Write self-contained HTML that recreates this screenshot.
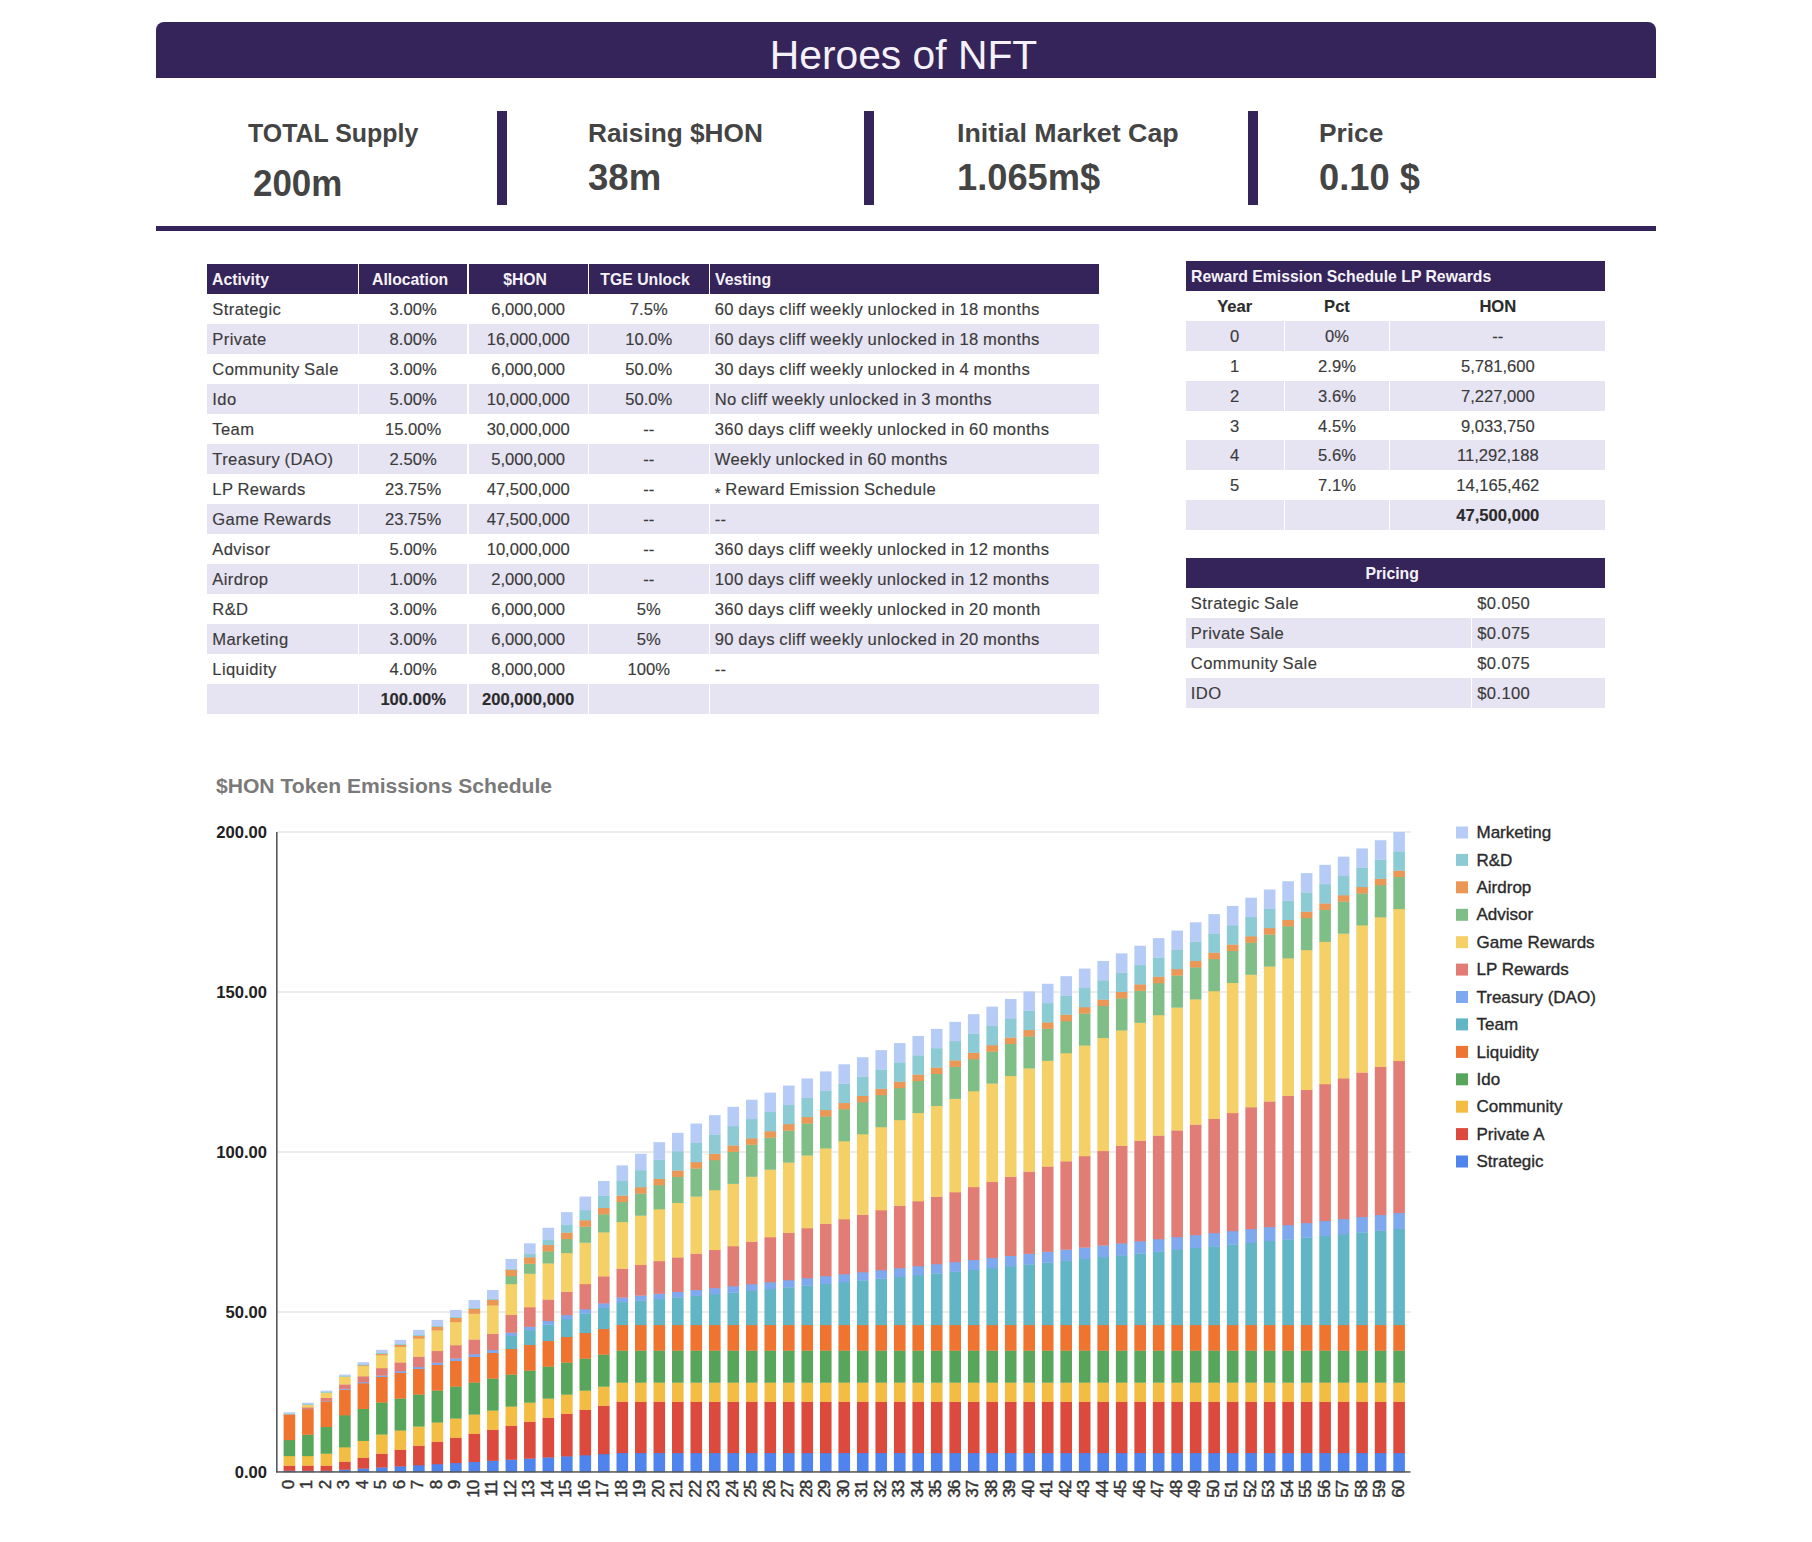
<!DOCTYPE html>
<html lang="en"><head><meta charset="utf-8"><title>Heroes of NFT - Tokenomics</title>
<style>
html,body{margin:0;padding:0;background:#fff;}
body{width:1812px;height:1542px;position:relative;overflow:hidden;font-family:"Liberation Sans",sans-serif;color:#3b3b3b;}
.banner{position:absolute;left:156px;top:22px;width:1500px;height:56px;background:#35245a;border-radius:8px 8px 0 0;color:#f4f2f8;text-align:center;font-size:40.8px;line-height:66px;text-indent:-5px;}
.rule{position:absolute;left:156px;top:226px;width:1500px;height:4.5px;background:#35245a;}
.vb{position:absolute;top:111px;width:10px;height:94px;background:#35245a;}
.sl,.sv{position:absolute;white-space:nowrap;font-weight:bold;color:#444;}
.sl{font-size:25px;line-height:36px;}
.sv{font-size:36px;line-height:46px;}
.sl span,.sv span{display:inline-block;transform-origin:0 50%;}
.c{position:absolute;box-sizing:border-box;font-size:16.6px;line-height:30px;white-space:nowrap;overflow:visible;}
.c span{display:inline-block;position:relative;top:1px;-webkit-text-stroke:.15px #3b3b3b;}
.ast{font-style:normal;font-size:15px;position:relative;top:2.5px;}
.c.l{text-align:left;padding-left:5px;letter-spacing:.38px;word-spacing:-.6px;}
.c.l span{transform-origin:0 50%;}
.c.m{text-align:center;}
.c.z{background:#e6e3f3;}
.c.h{background:#35245a;color:#f4f2f8;font-weight:bold;letter-spacing:0;word-spacing:0;}
.c.h span{transform:scaleX(.95);-webkit-text-stroke:0;}
.c.h.m span{left:-3.5px;}
.c.b{font-weight:bold;color:#2b2b2b;}
.chart{position:absolute;left:0;top:0;}
.chart text{font-family:"Liberation Sans",sans-serif;}
.yl{font-size:16.6px;font-weight:bold;fill:#222;}
.xl{font-size:17px;fill:#333;stroke:#333;stroke-width:.45px;letter-spacing:-.9px;}
.lg{font-size:17px;fill:#2a2a2a;stroke:#2a2a2a;stroke-width:.35px;}
.ct{font-size:21.1px;font-weight:bold;fill:#7a7a7a;}
</style></head><body>
<div class="banner">Heroes of NFT</div>
<div class="sl" style="left:247.5px;top:114.6px"><span style="transform:scaleX(0.997)">TOTAL Supply</span></div>
<div class="sv" style="left:252.5px;top:161.20000000000002px"><span style="transform:scaleX(0.97)">200m</span></div>
<div class="sl" style="left:588.3px;top:114.6px"><span style="transform:scaleX(1.049)">Raising $HON</span></div>
<div class="sv" style="left:588.3px;top:154.9px"><span style="transform:scaleX(1.016)">38m</span></div>
<div class="sl" style="left:957px;top:114.6px"><span style="transform:scaleX(1.071)">Initial Market Cap</span></div>
<div class="sv" style="left:957px;top:154.9px"><span style="transform:scaleX(1.007)">1.065m$</span></div>
<div class="sl" style="left:1318.6px;top:114.6px"><span style="transform:scaleX(1.052)">Price</span></div>
<div class="sv" style="left:1318.6px;top:154.9px"><span style="transform:scaleX(1.007)">0.10 $</span></div>
<div class="vb" style="left:497px"></div>
<div class="vb" style="left:864px"></div>
<div class="vb" style="left:1248px"></div>
<div class="rule"></div>
<div class="c h l" style="left:207.3px;top:264px;width:150.4px;height:30px;"><span>Activity</span></div>
<div class="c h m" style="left:358.8px;top:264px;width:108.7px;height:30px;"><span>Allocation</span></div>
<div class="c h m" style="left:468.6px;top:264px;width:119.2px;height:30px;"><span>$HON</span></div>
<div class="c h m" style="left:588.9px;top:264px;width:119.7px;height:30px;"><span>TGE Unlock</span></div>
<div class="c h l" style="left:709.7px;top:264px;width:389.3px;height:30px;"><span>Vesting</span></div>
<div class="c l " style="left:207.3px;top:294px;width:150.4px;height:30px;"><span>Strategic</span></div>
<div class="c m " style="left:358.8px;top:294px;width:108.7px;height:30px;"><span>3.00%</span></div>
<div class="c m " style="left:468.6px;top:294px;width:119.2px;height:30px;"><span>6,000,000</span></div>
<div class="c m " style="left:588.9px;top:294px;width:119.7px;height:30px;"><span>7.5%</span></div>
<div class="c l " style="left:709.7px;top:294px;width:389.3px;height:30px;"><span>60 days cliff weekly unlocked in 18 months</span></div>
<div class="c l z" style="left:207.3px;top:324px;width:150.4px;height:30px;"><span>Private</span></div>
<div class="c m z" style="left:358.8px;top:324px;width:108.7px;height:30px;"><span>8.00%</span></div>
<div class="c m z" style="left:468.6px;top:324px;width:119.2px;height:30px;"><span>16,000,000</span></div>
<div class="c m z" style="left:588.9px;top:324px;width:119.7px;height:30px;"><span>10.0%</span></div>
<div class="c l z" style="left:709.7px;top:324px;width:389.3px;height:30px;"><span>60 days cliff weekly unlocked in 18 months</span></div>
<div class="c l " style="left:207.3px;top:354px;width:150.4px;height:30px;"><span>Community Sale</span></div>
<div class="c m " style="left:358.8px;top:354px;width:108.7px;height:30px;"><span>3.00%</span></div>
<div class="c m " style="left:468.6px;top:354px;width:119.2px;height:30px;"><span>6,000,000</span></div>
<div class="c m " style="left:588.9px;top:354px;width:119.7px;height:30px;"><span>50.0%</span></div>
<div class="c l " style="left:709.7px;top:354px;width:389.3px;height:30px;"><span>30 days cliff weekly unlocked in 4 months</span></div>
<div class="c l z" style="left:207.3px;top:384px;width:150.4px;height:30px;"><span>Ido</span></div>
<div class="c m z" style="left:358.8px;top:384px;width:108.7px;height:30px;"><span>5.00%</span></div>
<div class="c m z" style="left:468.6px;top:384px;width:119.2px;height:30px;"><span>10,000,000</span></div>
<div class="c m z" style="left:588.9px;top:384px;width:119.7px;height:30px;"><span>50.0%</span></div>
<div class="c l z" style="left:709.7px;top:384px;width:389.3px;height:30px;"><span>No cliff weekly unlocked in 3 months</span></div>
<div class="c l " style="left:207.3px;top:414px;width:150.4px;height:30px;"><span>Team</span></div>
<div class="c m " style="left:358.8px;top:414px;width:108.7px;height:30px;"><span>15.00%</span></div>
<div class="c m " style="left:468.6px;top:414px;width:119.2px;height:30px;"><span>30,000,000</span></div>
<div class="c m " style="left:588.9px;top:414px;width:119.7px;height:30px;"><span>--</span></div>
<div class="c l " style="left:709.7px;top:414px;width:389.3px;height:30px;"><span>360 days cliff weekly unlocked in 60 months</span></div>
<div class="c l z" style="left:207.3px;top:444px;width:150.4px;height:30px;"><span>Treasury (DAO)</span></div>
<div class="c m z" style="left:358.8px;top:444px;width:108.7px;height:30px;"><span>2.50%</span></div>
<div class="c m z" style="left:468.6px;top:444px;width:119.2px;height:30px;"><span>5,000,000</span></div>
<div class="c m z" style="left:588.9px;top:444px;width:119.7px;height:30px;"><span>--</span></div>
<div class="c l z" style="left:709.7px;top:444px;width:389.3px;height:30px;"><span>Weekly unlocked in 60 months</span></div>
<div class="c l " style="left:207.3px;top:474px;width:150.4px;height:30px;"><span>LP Rewards</span></div>
<div class="c m " style="left:358.8px;top:474px;width:108.7px;height:30px;"><span>23.75%</span></div>
<div class="c m " style="left:468.6px;top:474px;width:119.2px;height:30px;"><span>47,500,000</span></div>
<div class="c m " style="left:588.9px;top:474px;width:119.7px;height:30px;"><span>--</span></div>
<div class="c l " style="left:709.7px;top:474px;width:389.3px;height:30px;"><span><i class="ast">*</i> Reward Emission Schedule</span></div>
<div class="c l z" style="left:207.3px;top:504px;width:150.4px;height:30px;"><span>Game Rewards</span></div>
<div class="c m z" style="left:358.8px;top:504px;width:108.7px;height:30px;"><span>23.75%</span></div>
<div class="c m z" style="left:468.6px;top:504px;width:119.2px;height:30px;"><span>47,500,000</span></div>
<div class="c m z" style="left:588.9px;top:504px;width:119.7px;height:30px;"><span>--</span></div>
<div class="c l z" style="left:709.7px;top:504px;width:389.3px;height:30px;"><span>--</span></div>
<div class="c l " style="left:207.3px;top:534px;width:150.4px;height:30px;"><span>Advisor</span></div>
<div class="c m " style="left:358.8px;top:534px;width:108.7px;height:30px;"><span>5.00%</span></div>
<div class="c m " style="left:468.6px;top:534px;width:119.2px;height:30px;"><span>10,000,000</span></div>
<div class="c m " style="left:588.9px;top:534px;width:119.7px;height:30px;"><span>--</span></div>
<div class="c l " style="left:709.7px;top:534px;width:389.3px;height:30px;"><span>360 days cliff weekly unlocked in 12 months</span></div>
<div class="c l z" style="left:207.3px;top:564px;width:150.4px;height:30px;"><span>Airdrop</span></div>
<div class="c m z" style="left:358.8px;top:564px;width:108.7px;height:30px;"><span>1.00%</span></div>
<div class="c m z" style="left:468.6px;top:564px;width:119.2px;height:30px;"><span>2,000,000</span></div>
<div class="c m z" style="left:588.9px;top:564px;width:119.7px;height:30px;"><span>--</span></div>
<div class="c l z" style="left:709.7px;top:564px;width:389.3px;height:30px;"><span>100 days cliff weekly unlocked in 12 months</span></div>
<div class="c l " style="left:207.3px;top:594px;width:150.4px;height:30px;"><span>R&amp;D</span></div>
<div class="c m " style="left:358.8px;top:594px;width:108.7px;height:30px;"><span>3.00%</span></div>
<div class="c m " style="left:468.6px;top:594px;width:119.2px;height:30px;"><span>6,000,000</span></div>
<div class="c m " style="left:588.9px;top:594px;width:119.7px;height:30px;"><span>5%</span></div>
<div class="c l " style="left:709.7px;top:594px;width:389.3px;height:30px;"><span>360 days cliff weekly unlocked in 20 month</span></div>
<div class="c l z" style="left:207.3px;top:624px;width:150.4px;height:30px;"><span>Marketing</span></div>
<div class="c m z" style="left:358.8px;top:624px;width:108.7px;height:30px;"><span>3.00%</span></div>
<div class="c m z" style="left:468.6px;top:624px;width:119.2px;height:30px;"><span>6,000,000</span></div>
<div class="c m z" style="left:588.9px;top:624px;width:119.7px;height:30px;"><span>5%</span></div>
<div class="c l z" style="left:709.7px;top:624px;width:389.3px;height:30px;"><span>90 days cliff weekly unlocked in 20 months</span></div>
<div class="c l " style="left:207.3px;top:654px;width:150.4px;height:30px;"><span>Liquidity</span></div>
<div class="c m " style="left:358.8px;top:654px;width:108.7px;height:30px;"><span>4.00%</span></div>
<div class="c m " style="left:468.6px;top:654px;width:119.2px;height:30px;"><span>8,000,000</span></div>
<div class="c m " style="left:588.9px;top:654px;width:119.7px;height:30px;"><span>100%</span></div>
<div class="c l " style="left:709.7px;top:654px;width:389.3px;height:30px;"><span>--</span></div>
<div class="c l z b" style="left:207.3px;top:684px;width:150.4px;height:30px;"><span></span></div>
<div class="c m z b" style="left:358.8px;top:684px;width:108.7px;height:30px;"><span>100.00%</span></div>
<div class="c m z b" style="left:468.6px;top:684px;width:119.2px;height:30px;"><span>200,000,000</span></div>
<div class="c m z b" style="left:588.9px;top:684px;width:119.7px;height:30px;"><span></span></div>
<div class="c l z b" style="left:709.7px;top:684px;width:389.3px;height:30px;"><span></span></div>
<div class="c h l hs" style="left:1185.8px;top:260.5px;width:419.5px;height:30px;"><span>Reward Emission Schedule LP Rewards</span></div>
<div class="c m b" style="left:1185.8px;top:290.5px;width:97.8px;height:30px;"><span>Year</span></div>
<div class="c m b" style="left:1284.7px;top:290.5px;width:104.6px;height:30px;"><span>Pct</span></div>
<div class="c m b" style="left:1390.4px;top:290.5px;width:214.9px;height:30px;"><span>HON</span></div>
<div class="c m z" style="left:1185.8px;top:320.8px;width:97.8px;height:30px;"><span>0</span></div>
<div class="c m z" style="left:1284.7px;top:320.8px;width:104.6px;height:30px;"><span>0%</span></div>
<div class="c m z" style="left:1390.4px;top:320.8px;width:214.9px;height:30px;"><span>--</span></div>
<div class="c m " style="left:1185.8px;top:350.7px;width:97.8px;height:30px;"><span>1</span></div>
<div class="c m " style="left:1284.7px;top:350.7px;width:104.6px;height:30px;"><span>2.9%</span></div>
<div class="c m " style="left:1390.4px;top:350.7px;width:214.9px;height:30px;"><span>5,781,600</span></div>
<div class="c m z" style="left:1185.8px;top:380.6px;width:97.8px;height:30px;"><span>2</span></div>
<div class="c m z" style="left:1284.7px;top:380.6px;width:104.6px;height:30px;"><span>3.6%</span></div>
<div class="c m z" style="left:1390.4px;top:380.6px;width:214.9px;height:30px;"><span>7,227,000</span></div>
<div class="c m " style="left:1185.8px;top:410.5px;width:97.8px;height:30px;"><span>3</span></div>
<div class="c m " style="left:1284.7px;top:410.5px;width:104.6px;height:30px;"><span>4.5%</span></div>
<div class="c m " style="left:1390.4px;top:410.5px;width:214.9px;height:30px;"><span>9,033,750</span></div>
<div class="c m z" style="left:1185.8px;top:440.4px;width:97.8px;height:30px;"><span>4</span></div>
<div class="c m z" style="left:1284.7px;top:440.4px;width:104.6px;height:30px;"><span>5.6%</span></div>
<div class="c m z" style="left:1390.4px;top:440.4px;width:214.9px;height:30px;"><span>11,292,188</span></div>
<div class="c m " style="left:1185.8px;top:470.3px;width:97.8px;height:30px;"><span>5</span></div>
<div class="c m " style="left:1284.7px;top:470.3px;width:104.6px;height:30px;"><span>7.1%</span></div>
<div class="c m " style="left:1390.4px;top:470.3px;width:214.9px;height:30px;"><span>14,165,462</span></div>
<div class="c m z b" style="left:1185.8px;top:500.2px;width:97.8px;height:30px;"><span></span></div>
<div class="c m z b" style="left:1284.7px;top:500.2px;width:104.6px;height:30px;"><span></span></div>
<div class="c m z b" style="left:1390.4px;top:500.2px;width:214.9px;height:30px;"><span>47,500,000</span></div>
<div class="c h m" style="left:1185.8px;top:558px;width:419.5px;height:29.5px;"><span>Pricing</span></div>
<div class="c l " style="left:1185.8px;top:587.8px;width:285.3px;height:30px;"><span>Strategic Sale</span></div>
<div class="c l " style="left:1472.2px;top:587.8px;width:133.1px;height:30px;"><span>$0.050</span></div>
<div class="c l z" style="left:1185.8px;top:617.8px;width:285.3px;height:30px;"><span>Private Sale</span></div>
<div class="c l z" style="left:1472.2px;top:617.8px;width:133.1px;height:30px;"><span>$0.075</span></div>
<div class="c l " style="left:1185.8px;top:647.8px;width:285.3px;height:30px;"><span>Community Sale</span></div>
<div class="c l " style="left:1472.2px;top:647.8px;width:133.1px;height:30px;"><span>$0.075</span></div>
<div class="c l z" style="left:1185.8px;top:677.8px;width:285.3px;height:30px;"><span>IDO</span></div>
<div class="c l z" style="left:1472.2px;top:677.8px;width:133.1px;height:30px;"><span>$0.100</span></div>
<svg class="chart" width="1812" height="1542" viewBox="0 0 1812 1542">
<rect x="277" y="1311.3" width="1134" height="1.4" fill="#e4e4e4"/>
<rect x="277" y="1151.3" width="1134" height="1.4" fill="#e4e4e4"/>
<rect x="277" y="991.3" width="1134" height="1.4" fill="#e4e4e4"/>
<rect x="277" y="831.3" width="1134" height="1.4" fill="#e4e4e4"/>
<rect x="283.60" y="1470.56" width="11.6" height="1.74" fill="#4f84ec"/>
<rect x="283.60" y="1465.44" width="11.6" height="5.42" fill="#dc4a3d"/>
<rect x="283.60" y="1455.84" width="11.6" height="9.90" fill="#f2bd42"/>
<rect x="283.60" y="1439.84" width="11.6" height="16.30" fill="#58a55c"/>
<rect x="283.60" y="1414.24" width="11.6" height="25.90" fill="#ee7430"/>
<rect x="283.60" y="1413.28" width="11.6" height="1.26" fill="#8ccbd3"/>
<rect x="283.60" y="1412.32" width="11.6" height="1.26" fill="#b6ccf6"/>
<rect x="302.09" y="1470.56" width="11.6" height="1.74" fill="#4f84ec"/>
<rect x="302.09" y="1465.44" width="11.6" height="5.42" fill="#dc4a3d"/>
<rect x="302.09" y="1455.84" width="11.6" height="9.90" fill="#f2bd42"/>
<rect x="302.09" y="1434.51" width="11.6" height="21.63" fill="#58a55c"/>
<rect x="302.09" y="1408.91" width="11.6" height="25.90" fill="#ee7430"/>
<rect x="302.09" y="1408.64" width="11.6" height="0.57" fill="#7ea9ef"/>
<rect x="302.09" y="1407.16" width="11.6" height="1.78" fill="#e17d75"/>
<rect x="302.09" y="1404.59" width="11.6" height="2.87" fill="#f4d067"/>
<rect x="302.09" y="1403.63" width="11.6" height="1.26" fill="#8ccbd3"/>
<rect x="302.09" y="1402.67" width="11.6" height="1.26" fill="#b6ccf6"/>
<rect x="320.59" y="1470.56" width="11.6" height="1.74" fill="#4f84ec"/>
<rect x="320.59" y="1465.44" width="11.6" height="5.42" fill="#dc4a3d"/>
<rect x="320.59" y="1453.44" width="11.6" height="12.30" fill="#f2bd42"/>
<rect x="320.59" y="1426.77" width="11.6" height="26.97" fill="#58a55c"/>
<rect x="320.59" y="1401.17" width="11.6" height="25.90" fill="#ee7430"/>
<rect x="320.59" y="1400.64" width="11.6" height="0.83" fill="#7ea9ef"/>
<rect x="320.59" y="1397.69" width="11.6" height="3.25" fill="#e17d75"/>
<rect x="320.59" y="1392.54" width="11.6" height="5.45" fill="#f4d067"/>
<rect x="320.59" y="1391.58" width="11.6" height="1.26" fill="#8ccbd3"/>
<rect x="320.59" y="1390.62" width="11.6" height="1.26" fill="#b6ccf6"/>
<rect x="339.08" y="1469.45" width="11.6" height="2.85" fill="#4f84ec"/>
<rect x="339.08" y="1461.45" width="11.6" height="8.30" fill="#dc4a3d"/>
<rect x="339.08" y="1447.05" width="11.6" height="14.70" fill="#f2bd42"/>
<rect x="339.08" y="1415.05" width="11.6" height="32.30" fill="#58a55c"/>
<rect x="339.08" y="1389.45" width="11.6" height="25.90" fill="#ee7430"/>
<rect x="339.08" y="1388.65" width="11.6" height="1.10" fill="#7ea9ef"/>
<rect x="339.08" y="1384.22" width="11.6" height="4.73" fill="#e17d75"/>
<rect x="339.08" y="1376.50" width="11.6" height="8.02" fill="#f4d067"/>
<rect x="339.08" y="1375.54" width="11.6" height="1.26" fill="#8ccbd3"/>
<rect x="339.08" y="1374.58" width="11.6" height="1.26" fill="#b6ccf6"/>
<rect x="357.58" y="1468.34" width="11.6" height="3.96" fill="#4f84ec"/>
<rect x="357.58" y="1457.46" width="11.6" height="11.18" fill="#dc4a3d"/>
<rect x="357.58" y="1440.66" width="11.6" height="17.10" fill="#f2bd42"/>
<rect x="357.58" y="1408.66" width="11.6" height="32.30" fill="#58a55c"/>
<rect x="357.58" y="1383.06" width="11.6" height="25.90" fill="#ee7430"/>
<rect x="357.58" y="1381.99" width="11.6" height="1.37" fill="#7ea9ef"/>
<rect x="357.58" y="1376.09" width="11.6" height="6.20" fill="#e17d75"/>
<rect x="357.58" y="1365.80" width="11.6" height="10.59" fill="#f4d067"/>
<rect x="357.58" y="1365.09" width="11.6" height="1.01" fill="#eb9857"/>
<rect x="357.58" y="1364.13" width="11.6" height="1.26" fill="#8ccbd3"/>
<rect x="357.58" y="1362.21" width="11.6" height="2.22" fill="#b6ccf6"/>
<rect x="376.07" y="1467.23" width="11.6" height="5.07" fill="#4f84ec"/>
<rect x="376.07" y="1453.47" width="11.6" height="14.06" fill="#dc4a3d"/>
<rect x="376.07" y="1434.27" width="11.6" height="19.50" fill="#f2bd42"/>
<rect x="376.07" y="1402.27" width="11.6" height="32.30" fill="#58a55c"/>
<rect x="376.07" y="1376.67" width="11.6" height="25.90" fill="#ee7430"/>
<rect x="376.07" y="1375.34" width="11.6" height="1.63" fill="#7ea9ef"/>
<rect x="376.07" y="1367.96" width="11.6" height="7.68" fill="#e17d75"/>
<rect x="376.07" y="1355.09" width="11.6" height="13.17" fill="#f4d067"/>
<rect x="376.07" y="1353.67" width="11.6" height="1.72" fill="#eb9857"/>
<rect x="376.07" y="1352.71" width="11.6" height="1.26" fill="#8ccbd3"/>
<rect x="376.07" y="1349.83" width="11.6" height="3.18" fill="#b6ccf6"/>
<rect x="394.57" y="1466.12" width="11.6" height="6.18" fill="#4f84ec"/>
<rect x="394.57" y="1449.48" width="11.6" height="16.94" fill="#dc4a3d"/>
<rect x="394.57" y="1430.28" width="11.6" height="19.50" fill="#f2bd42"/>
<rect x="394.57" y="1398.28" width="11.6" height="32.30" fill="#58a55c"/>
<rect x="394.57" y="1372.68" width="11.6" height="25.90" fill="#ee7430"/>
<rect x="394.57" y="1371.08" width="11.6" height="1.90" fill="#7ea9ef"/>
<rect x="394.57" y="1362.23" width="11.6" height="9.15" fill="#e17d75"/>
<rect x="394.57" y="1346.79" width="11.6" height="15.74" fill="#f4d067"/>
<rect x="394.57" y="1344.66" width="11.6" height="2.43" fill="#eb9857"/>
<rect x="394.57" y="1343.70" width="11.6" height="1.26" fill="#8ccbd3"/>
<rect x="394.57" y="1339.86" width="11.6" height="4.14" fill="#b6ccf6"/>
<rect x="413.06" y="1465.01" width="11.6" height="7.29" fill="#4f84ec"/>
<rect x="413.06" y="1445.49" width="11.6" height="19.82" fill="#dc4a3d"/>
<rect x="413.06" y="1426.29" width="11.6" height="19.50" fill="#f2bd42"/>
<rect x="413.06" y="1394.29" width="11.6" height="32.30" fill="#58a55c"/>
<rect x="413.06" y="1368.69" width="11.6" height="25.90" fill="#ee7430"/>
<rect x="413.06" y="1366.82" width="11.6" height="2.17" fill="#7ea9ef"/>
<rect x="413.06" y="1356.50" width="11.6" height="10.63" fill="#e17d75"/>
<rect x="413.06" y="1338.48" width="11.6" height="18.31" fill="#f4d067"/>
<rect x="413.06" y="1335.64" width="11.6" height="3.14" fill="#eb9857"/>
<rect x="413.06" y="1334.68" width="11.6" height="1.26" fill="#8ccbd3"/>
<rect x="413.06" y="1329.88" width="11.6" height="5.10" fill="#b6ccf6"/>
<rect x="431.56" y="1463.90" width="11.6" height="8.40" fill="#4f84ec"/>
<rect x="431.56" y="1441.50" width="11.6" height="22.70" fill="#dc4a3d"/>
<rect x="431.56" y="1422.30" width="11.6" height="19.50" fill="#f2bd42"/>
<rect x="431.56" y="1390.30" width="11.6" height="32.30" fill="#58a55c"/>
<rect x="431.56" y="1364.70" width="11.6" height="25.90" fill="#ee7430"/>
<rect x="431.56" y="1362.57" width="11.6" height="2.43" fill="#7ea9ef"/>
<rect x="431.56" y="1350.77" width="11.6" height="12.10" fill="#e17d75"/>
<rect x="431.56" y="1330.18" width="11.6" height="20.89" fill="#f4d067"/>
<rect x="431.56" y="1326.62" width="11.6" height="3.86" fill="#eb9857"/>
<rect x="431.56" y="1325.66" width="11.6" height="1.26" fill="#8ccbd3"/>
<rect x="431.56" y="1319.90" width="11.6" height="6.06" fill="#b6ccf6"/>
<rect x="450.06" y="1462.79" width="11.6" height="9.51" fill="#4f84ec"/>
<rect x="450.06" y="1437.51" width="11.6" height="25.58" fill="#dc4a3d"/>
<rect x="450.06" y="1418.31" width="11.6" height="19.50" fill="#f2bd42"/>
<rect x="450.06" y="1386.31" width="11.6" height="32.30" fill="#58a55c"/>
<rect x="450.06" y="1360.71" width="11.6" height="25.90" fill="#ee7430"/>
<rect x="450.06" y="1358.31" width="11.6" height="2.70" fill="#7ea9ef"/>
<rect x="450.06" y="1345.03" width="11.6" height="13.58" fill="#e17d75"/>
<rect x="450.06" y="1321.87" width="11.6" height="23.46" fill="#f4d067"/>
<rect x="450.06" y="1317.61" width="11.6" height="4.57" fill="#eb9857"/>
<rect x="450.06" y="1316.65" width="11.6" height="1.26" fill="#8ccbd3"/>
<rect x="450.06" y="1309.93" width="11.6" height="7.02" fill="#b6ccf6"/>
<rect x="468.55" y="1461.68" width="11.6" height="10.62" fill="#4f84ec"/>
<rect x="468.55" y="1433.52" width="11.6" height="28.46" fill="#dc4a3d"/>
<rect x="468.55" y="1414.32" width="11.6" height="19.50" fill="#f2bd42"/>
<rect x="468.55" y="1382.32" width="11.6" height="32.30" fill="#58a55c"/>
<rect x="468.55" y="1356.72" width="11.6" height="25.90" fill="#ee7430"/>
<rect x="468.55" y="1354.05" width="11.6" height="2.97" fill="#7ea9ef"/>
<rect x="468.55" y="1339.30" width="11.6" height="15.05" fill="#e17d75"/>
<rect x="468.55" y="1313.57" width="11.6" height="26.03" fill="#f4d067"/>
<rect x="468.55" y="1308.59" width="11.6" height="5.28" fill="#eb9857"/>
<rect x="468.55" y="1307.63" width="11.6" height="1.26" fill="#8ccbd3"/>
<rect x="468.55" y="1299.95" width="11.6" height="7.98" fill="#b6ccf6"/>
<rect x="487.05" y="1460.57" width="11.6" height="11.73" fill="#4f84ec"/>
<rect x="487.05" y="1429.53" width="11.6" height="31.34" fill="#dc4a3d"/>
<rect x="487.05" y="1410.33" width="11.6" height="19.50" fill="#f2bd42"/>
<rect x="487.05" y="1378.33" width="11.6" height="32.30" fill="#58a55c"/>
<rect x="487.05" y="1352.73" width="11.6" height="25.90" fill="#ee7430"/>
<rect x="487.05" y="1349.80" width="11.6" height="3.23" fill="#7ea9ef"/>
<rect x="487.05" y="1333.57" width="11.6" height="16.53" fill="#e17d75"/>
<rect x="487.05" y="1305.26" width="11.6" height="28.61" fill="#f4d067"/>
<rect x="487.05" y="1299.58" width="11.6" height="5.99" fill="#eb9857"/>
<rect x="487.05" y="1298.62" width="11.6" height="1.26" fill="#8ccbd3"/>
<rect x="487.05" y="1289.98" width="11.6" height="8.94" fill="#b6ccf6"/>
<rect x="505.54" y="1459.46" width="11.6" height="12.84" fill="#4f84ec"/>
<rect x="505.54" y="1425.54" width="11.6" height="34.22" fill="#dc4a3d"/>
<rect x="505.54" y="1406.34" width="11.6" height="19.50" fill="#f2bd42"/>
<rect x="505.54" y="1374.34" width="11.6" height="32.30" fill="#58a55c"/>
<rect x="505.54" y="1348.74" width="11.6" height="25.90" fill="#ee7430"/>
<rect x="505.54" y="1335.67" width="11.6" height="13.37" fill="#62b5c4"/>
<rect x="505.54" y="1332.47" width="11.6" height="3.50" fill="#7ea9ef"/>
<rect x="505.54" y="1314.76" width="11.6" height="18.00" fill="#e17d75"/>
<rect x="505.54" y="1283.88" width="11.6" height="31.18" fill="#f4d067"/>
<rect x="505.54" y="1275.88" width="11.6" height="8.30" fill="#80be88"/>
<rect x="505.54" y="1269.48" width="11.6" height="6.70" fill="#eb9857"/>
<rect x="505.54" y="1268.52" width="11.6" height="1.26" fill="#8ccbd3"/>
<rect x="505.54" y="1258.92" width="11.6" height="9.90" fill="#b6ccf6"/>
<rect x="524.04" y="1458.35" width="11.6" height="13.95" fill="#4f84ec"/>
<rect x="524.04" y="1421.55" width="11.6" height="37.10" fill="#dc4a3d"/>
<rect x="524.04" y="1402.35" width="11.6" height="19.50" fill="#f2bd42"/>
<rect x="524.04" y="1370.35" width="11.6" height="32.30" fill="#58a55c"/>
<rect x="524.04" y="1344.75" width="11.6" height="25.90" fill="#ee7430"/>
<rect x="524.04" y="1330.07" width="11.6" height="14.98" fill="#62b5c4"/>
<rect x="524.04" y="1326.60" width="11.6" height="3.77" fill="#7ea9ef"/>
<rect x="524.04" y="1307.04" width="11.6" height="19.86" fill="#e17d75"/>
<rect x="524.04" y="1273.53" width="11.6" height="33.81" fill="#f4d067"/>
<rect x="524.04" y="1263.53" width="11.6" height="10.30" fill="#80be88"/>
<rect x="524.04" y="1257.13" width="11.6" height="6.70" fill="#eb9857"/>
<rect x="524.04" y="1253.89" width="11.6" height="3.54" fill="#8ccbd3"/>
<rect x="524.04" y="1243.33" width="11.6" height="10.86" fill="#b6ccf6"/>
<rect x="542.53" y="1457.24" width="11.6" height="15.06" fill="#4f84ec"/>
<rect x="542.53" y="1417.56" width="11.6" height="39.98" fill="#dc4a3d"/>
<rect x="542.53" y="1398.36" width="11.6" height="19.50" fill="#f2bd42"/>
<rect x="542.53" y="1366.36" width="11.6" height="32.30" fill="#58a55c"/>
<rect x="542.53" y="1340.76" width="11.6" height="25.90" fill="#ee7430"/>
<rect x="542.53" y="1324.47" width="11.6" height="16.59" fill="#62b5c4"/>
<rect x="542.53" y="1320.74" width="11.6" height="4.03" fill="#7ea9ef"/>
<rect x="542.53" y="1299.31" width="11.6" height="21.72" fill="#e17d75"/>
<rect x="542.53" y="1263.18" width="11.6" height="36.43" fill="#f4d067"/>
<rect x="542.53" y="1251.18" width="11.6" height="12.30" fill="#80be88"/>
<rect x="542.53" y="1244.78" width="11.6" height="6.70" fill="#eb9857"/>
<rect x="542.53" y="1239.26" width="11.6" height="5.82" fill="#8ccbd3"/>
<rect x="542.53" y="1227.74" width="11.6" height="11.82" fill="#b6ccf6"/>
<rect x="561.03" y="1456.13" width="11.6" height="16.17" fill="#4f84ec"/>
<rect x="561.03" y="1413.57" width="11.6" height="42.86" fill="#dc4a3d"/>
<rect x="561.03" y="1394.37" width="11.6" height="19.50" fill="#f2bd42"/>
<rect x="561.03" y="1362.37" width="11.6" height="32.30" fill="#58a55c"/>
<rect x="561.03" y="1336.77" width="11.6" height="25.90" fill="#ee7430"/>
<rect x="561.03" y="1318.87" width="11.6" height="18.20" fill="#62b5c4"/>
<rect x="561.03" y="1314.87" width="11.6" height="4.30" fill="#7ea9ef"/>
<rect x="561.03" y="1291.59" width="11.6" height="23.58" fill="#e17d75"/>
<rect x="561.03" y="1252.83" width="11.6" height="39.06" fill="#f4d067"/>
<rect x="561.03" y="1238.83" width="11.6" height="14.30" fill="#80be88"/>
<rect x="561.03" y="1232.43" width="11.6" height="6.70" fill="#eb9857"/>
<rect x="561.03" y="1224.63" width="11.6" height="8.10" fill="#8ccbd3"/>
<rect x="561.03" y="1212.15" width="11.6" height="12.78" fill="#b6ccf6"/>
<rect x="579.52" y="1455.02" width="11.6" height="17.28" fill="#4f84ec"/>
<rect x="579.52" y="1409.58" width="11.6" height="45.74" fill="#dc4a3d"/>
<rect x="579.52" y="1390.38" width="11.6" height="19.50" fill="#f2bd42"/>
<rect x="579.52" y="1358.38" width="11.6" height="32.30" fill="#58a55c"/>
<rect x="579.52" y="1332.78" width="11.6" height="25.90" fill="#ee7430"/>
<rect x="579.52" y="1313.28" width="11.6" height="19.80" fill="#62b5c4"/>
<rect x="579.52" y="1309.01" width="11.6" height="4.57" fill="#7ea9ef"/>
<rect x="579.52" y="1283.87" width="11.6" height="25.44" fill="#e17d75"/>
<rect x="579.52" y="1242.48" width="11.6" height="41.69" fill="#f4d067"/>
<rect x="579.52" y="1226.48" width="11.6" height="16.30" fill="#80be88"/>
<rect x="579.52" y="1220.08" width="11.6" height="6.70" fill="#eb9857"/>
<rect x="579.52" y="1210.00" width="11.6" height="10.38" fill="#8ccbd3"/>
<rect x="579.52" y="1196.56" width="11.6" height="13.74" fill="#b6ccf6"/>
<rect x="598.02" y="1453.91" width="11.6" height="18.39" fill="#4f84ec"/>
<rect x="598.02" y="1405.59" width="11.6" height="48.62" fill="#dc4a3d"/>
<rect x="598.02" y="1386.39" width="11.6" height="19.50" fill="#f2bd42"/>
<rect x="598.02" y="1354.39" width="11.6" height="32.30" fill="#58a55c"/>
<rect x="598.02" y="1328.79" width="11.6" height="25.90" fill="#ee7430"/>
<rect x="598.02" y="1307.68" width="11.6" height="21.41" fill="#62b5c4"/>
<rect x="598.02" y="1303.14" width="11.6" height="4.83" fill="#7ea9ef"/>
<rect x="598.02" y="1276.14" width="11.6" height="27.30" fill="#e17d75"/>
<rect x="598.02" y="1232.13" width="11.6" height="44.31" fill="#f4d067"/>
<rect x="598.02" y="1214.13" width="11.6" height="18.30" fill="#80be88"/>
<rect x="598.02" y="1207.73" width="11.6" height="6.70" fill="#eb9857"/>
<rect x="598.02" y="1195.37" width="11.6" height="12.66" fill="#8ccbd3"/>
<rect x="598.02" y="1180.97" width="11.6" height="14.70" fill="#b6ccf6"/>
<rect x="616.51" y="1452.80" width="11.6" height="19.50" fill="#4f84ec"/>
<rect x="616.51" y="1401.60" width="11.6" height="51.50" fill="#dc4a3d"/>
<rect x="616.51" y="1382.40" width="11.6" height="19.50" fill="#f2bd42"/>
<rect x="616.51" y="1350.40" width="11.6" height="32.30" fill="#58a55c"/>
<rect x="616.51" y="1324.80" width="11.6" height="25.90" fill="#ee7430"/>
<rect x="616.51" y="1302.08" width="11.6" height="23.02" fill="#62b5c4"/>
<rect x="616.51" y="1297.28" width="11.6" height="5.10" fill="#7ea9ef"/>
<rect x="616.51" y="1268.42" width="11.6" height="29.16" fill="#e17d75"/>
<rect x="616.51" y="1221.78" width="11.6" height="46.94" fill="#f4d067"/>
<rect x="616.51" y="1201.78" width="11.6" height="20.30" fill="#80be88"/>
<rect x="616.51" y="1195.38" width="11.6" height="6.70" fill="#eb9857"/>
<rect x="616.51" y="1180.74" width="11.6" height="14.94" fill="#8ccbd3"/>
<rect x="616.51" y="1165.38" width="11.6" height="15.66" fill="#b6ccf6"/>
<rect x="635.01" y="1452.80" width="11.6" height="19.50" fill="#4f84ec"/>
<rect x="635.01" y="1401.60" width="11.6" height="51.50" fill="#dc4a3d"/>
<rect x="635.01" y="1382.40" width="11.6" height="19.50" fill="#f2bd42"/>
<rect x="635.01" y="1350.40" width="11.6" height="32.30" fill="#58a55c"/>
<rect x="635.01" y="1324.80" width="11.6" height="25.90" fill="#ee7430"/>
<rect x="635.01" y="1300.47" width="11.6" height="24.63" fill="#62b5c4"/>
<rect x="635.01" y="1295.41" width="11.6" height="5.37" fill="#7ea9ef"/>
<rect x="635.01" y="1264.68" width="11.6" height="31.02" fill="#e17d75"/>
<rect x="635.01" y="1215.41" width="11.6" height="49.57" fill="#f4d067"/>
<rect x="635.01" y="1193.41" width="11.6" height="22.30" fill="#80be88"/>
<rect x="635.01" y="1187.01" width="11.6" height="6.70" fill="#eb9857"/>
<rect x="635.01" y="1170.09" width="11.6" height="17.22" fill="#8ccbd3"/>
<rect x="635.01" y="1153.77" width="11.6" height="16.62" fill="#b6ccf6"/>
<rect x="653.50" y="1452.80" width="11.6" height="19.50" fill="#4f84ec"/>
<rect x="653.50" y="1401.60" width="11.6" height="51.50" fill="#dc4a3d"/>
<rect x="653.50" y="1382.40" width="11.6" height="19.50" fill="#f2bd42"/>
<rect x="653.50" y="1350.40" width="11.6" height="32.30" fill="#58a55c"/>
<rect x="653.50" y="1324.80" width="11.6" height="25.90" fill="#ee7430"/>
<rect x="653.50" y="1298.86" width="11.6" height="26.24" fill="#62b5c4"/>
<rect x="653.50" y="1293.53" width="11.6" height="5.63" fill="#7ea9ef"/>
<rect x="653.50" y="1260.95" width="11.6" height="32.89" fill="#e17d75"/>
<rect x="653.50" y="1209.05" width="11.6" height="52.19" fill="#f4d067"/>
<rect x="653.50" y="1185.05" width="11.6" height="24.30" fill="#80be88"/>
<rect x="653.50" y="1178.65" width="11.6" height="6.70" fill="#eb9857"/>
<rect x="653.50" y="1159.45" width="11.6" height="19.50" fill="#8ccbd3"/>
<rect x="653.50" y="1142.17" width="11.6" height="17.58" fill="#b6ccf6"/>
<rect x="672.00" y="1452.80" width="11.6" height="19.50" fill="#4f84ec"/>
<rect x="672.00" y="1401.60" width="11.6" height="51.50" fill="#dc4a3d"/>
<rect x="672.00" y="1382.40" width="11.6" height="19.50" fill="#f2bd42"/>
<rect x="672.00" y="1350.40" width="11.6" height="32.30" fill="#58a55c"/>
<rect x="672.00" y="1324.80" width="11.6" height="25.90" fill="#ee7430"/>
<rect x="672.00" y="1297.26" width="11.6" height="27.84" fill="#62b5c4"/>
<rect x="672.00" y="1291.66" width="11.6" height="5.90" fill="#7ea9ef"/>
<rect x="672.00" y="1257.21" width="11.6" height="34.75" fill="#e17d75"/>
<rect x="672.00" y="1202.69" width="11.6" height="54.82" fill="#f4d067"/>
<rect x="672.00" y="1176.69" width="11.6" height="26.30" fill="#80be88"/>
<rect x="672.00" y="1170.29" width="11.6" height="6.70" fill="#eb9857"/>
<rect x="672.00" y="1151.09" width="11.6" height="19.50" fill="#8ccbd3"/>
<rect x="672.00" y="1132.85" width="11.6" height="18.54" fill="#b6ccf6"/>
<rect x="690.49" y="1452.80" width="11.6" height="19.50" fill="#4f84ec"/>
<rect x="690.49" y="1401.60" width="11.6" height="51.50" fill="#dc4a3d"/>
<rect x="690.49" y="1382.40" width="11.6" height="19.50" fill="#f2bd42"/>
<rect x="690.49" y="1350.40" width="11.6" height="32.30" fill="#58a55c"/>
<rect x="690.49" y="1324.80" width="11.6" height="25.90" fill="#ee7430"/>
<rect x="690.49" y="1295.65" width="11.6" height="29.45" fill="#62b5c4"/>
<rect x="690.49" y="1289.78" width="11.6" height="6.17" fill="#7ea9ef"/>
<rect x="690.49" y="1253.48" width="11.6" height="36.61" fill="#e17d75"/>
<rect x="690.49" y="1196.33" width="11.6" height="57.45" fill="#f4d067"/>
<rect x="690.49" y="1168.33" width="11.6" height="28.30" fill="#80be88"/>
<rect x="690.49" y="1161.93" width="11.6" height="6.70" fill="#eb9857"/>
<rect x="690.49" y="1142.73" width="11.6" height="19.50" fill="#8ccbd3"/>
<rect x="690.49" y="1123.53" width="11.6" height="19.50" fill="#b6ccf6"/>
<rect x="708.99" y="1452.80" width="11.6" height="19.50" fill="#4f84ec"/>
<rect x="708.99" y="1401.60" width="11.6" height="51.50" fill="#dc4a3d"/>
<rect x="708.99" y="1382.40" width="11.6" height="19.50" fill="#f2bd42"/>
<rect x="708.99" y="1350.40" width="11.6" height="32.30" fill="#58a55c"/>
<rect x="708.99" y="1324.80" width="11.6" height="25.90" fill="#ee7430"/>
<rect x="708.99" y="1294.04" width="11.6" height="31.06" fill="#62b5c4"/>
<rect x="708.99" y="1287.91" width="11.6" height="6.43" fill="#7ea9ef"/>
<rect x="708.99" y="1249.74" width="11.6" height="38.47" fill="#e17d75"/>
<rect x="708.99" y="1189.97" width="11.6" height="60.07" fill="#f4d067"/>
<rect x="708.99" y="1159.97" width="11.6" height="30.30" fill="#80be88"/>
<rect x="708.99" y="1153.57" width="11.6" height="6.70" fill="#eb9857"/>
<rect x="708.99" y="1134.37" width="11.6" height="19.50" fill="#8ccbd3"/>
<rect x="708.99" y="1115.17" width="11.6" height="19.50" fill="#b6ccf6"/>
<rect x="727.48" y="1452.80" width="11.6" height="19.50" fill="#4f84ec"/>
<rect x="727.48" y="1401.60" width="11.6" height="51.50" fill="#dc4a3d"/>
<rect x="727.48" y="1382.40" width="11.6" height="19.50" fill="#f2bd42"/>
<rect x="727.48" y="1350.40" width="11.6" height="32.30" fill="#58a55c"/>
<rect x="727.48" y="1324.80" width="11.6" height="25.90" fill="#ee7430"/>
<rect x="727.48" y="1292.43" width="11.6" height="32.67" fill="#62b5c4"/>
<rect x="727.48" y="1286.03" width="11.6" height="6.70" fill="#7ea9ef"/>
<rect x="727.48" y="1246.01" width="11.6" height="40.33" fill="#e17d75"/>
<rect x="727.48" y="1183.61" width="11.6" height="62.70" fill="#f4d067"/>
<rect x="727.48" y="1151.61" width="11.6" height="32.30" fill="#80be88"/>
<rect x="727.48" y="1145.21" width="11.6" height="6.70" fill="#eb9857"/>
<rect x="727.48" y="1126.01" width="11.6" height="19.50" fill="#8ccbd3"/>
<rect x="727.48" y="1106.81" width="11.6" height="19.50" fill="#b6ccf6"/>
<rect x="745.98" y="1452.80" width="11.6" height="19.50" fill="#4f84ec"/>
<rect x="745.98" y="1401.60" width="11.6" height="51.50" fill="#dc4a3d"/>
<rect x="745.98" y="1382.40" width="11.6" height="19.50" fill="#f2bd42"/>
<rect x="745.98" y="1350.40" width="11.6" height="32.30" fill="#58a55c"/>
<rect x="745.98" y="1324.80" width="11.6" height="25.90" fill="#ee7430"/>
<rect x="745.98" y="1290.69" width="11.6" height="34.41" fill="#62b5c4"/>
<rect x="745.98" y="1284.03" width="11.6" height="6.97" fill="#7ea9ef"/>
<rect x="745.98" y="1241.51" width="11.6" height="42.82" fill="#e17d75"/>
<rect x="745.98" y="1176.52" width="11.6" height="65.29" fill="#f4d067"/>
<rect x="745.98" y="1144.52" width="11.6" height="32.30" fill="#80be88"/>
<rect x="745.98" y="1138.12" width="11.6" height="6.70" fill="#eb9857"/>
<rect x="745.98" y="1118.92" width="11.6" height="19.50" fill="#8ccbd3"/>
<rect x="745.98" y="1099.72" width="11.6" height="19.50" fill="#b6ccf6"/>
<rect x="764.47" y="1452.80" width="11.6" height="19.50" fill="#4f84ec"/>
<rect x="764.47" y="1401.60" width="11.6" height="51.50" fill="#dc4a3d"/>
<rect x="764.47" y="1382.40" width="11.6" height="19.50" fill="#f2bd42"/>
<rect x="764.47" y="1350.40" width="11.6" height="32.30" fill="#58a55c"/>
<rect x="764.47" y="1324.80" width="11.6" height="25.90" fill="#ee7430"/>
<rect x="764.47" y="1288.95" width="11.6" height="36.15" fill="#62b5c4"/>
<rect x="764.47" y="1282.02" width="11.6" height="7.23" fill="#7ea9ef"/>
<rect x="764.47" y="1237.01" width="11.6" height="45.31" fill="#e17d75"/>
<rect x="764.47" y="1169.44" width="11.6" height="67.87" fill="#f4d067"/>
<rect x="764.47" y="1137.44" width="11.6" height="32.30" fill="#80be88"/>
<rect x="764.47" y="1131.04" width="11.6" height="6.70" fill="#eb9857"/>
<rect x="764.47" y="1111.84" width="11.6" height="19.50" fill="#8ccbd3"/>
<rect x="764.47" y="1092.64" width="11.6" height="19.50" fill="#b6ccf6"/>
<rect x="782.97" y="1452.80" width="11.6" height="19.50" fill="#4f84ec"/>
<rect x="782.97" y="1401.60" width="11.6" height="51.50" fill="#dc4a3d"/>
<rect x="782.97" y="1382.40" width="11.6" height="19.50" fill="#f2bd42"/>
<rect x="782.97" y="1350.40" width="11.6" height="32.30" fill="#58a55c"/>
<rect x="782.97" y="1324.80" width="11.6" height="25.90" fill="#ee7430"/>
<rect x="782.97" y="1287.21" width="11.6" height="37.89" fill="#62b5c4"/>
<rect x="782.97" y="1280.01" width="11.6" height="7.50" fill="#7ea9ef"/>
<rect x="782.97" y="1232.52" width="11.6" height="47.79" fill="#e17d75"/>
<rect x="782.97" y="1162.36" width="11.6" height="70.46" fill="#f4d067"/>
<rect x="782.97" y="1130.36" width="11.6" height="32.30" fill="#80be88"/>
<rect x="782.97" y="1123.96" width="11.6" height="6.70" fill="#eb9857"/>
<rect x="782.97" y="1104.76" width="11.6" height="19.50" fill="#8ccbd3"/>
<rect x="782.97" y="1085.56" width="11.6" height="19.50" fill="#b6ccf6"/>
<rect x="801.46" y="1452.80" width="11.6" height="19.50" fill="#4f84ec"/>
<rect x="801.46" y="1401.60" width="11.6" height="51.50" fill="#dc4a3d"/>
<rect x="801.46" y="1382.40" width="11.6" height="19.50" fill="#f2bd42"/>
<rect x="801.46" y="1350.40" width="11.6" height="32.30" fill="#58a55c"/>
<rect x="801.46" y="1324.80" width="11.6" height="25.90" fill="#ee7430"/>
<rect x="801.46" y="1285.47" width="11.6" height="39.63" fill="#62b5c4"/>
<rect x="801.46" y="1278.00" width="11.6" height="7.77" fill="#7ea9ef"/>
<rect x="801.46" y="1228.02" width="11.6" height="50.28" fill="#e17d75"/>
<rect x="801.46" y="1155.27" width="11.6" height="73.05" fill="#f4d067"/>
<rect x="801.46" y="1123.27" width="11.6" height="32.30" fill="#80be88"/>
<rect x="801.46" y="1116.87" width="11.6" height="6.70" fill="#eb9857"/>
<rect x="801.46" y="1097.67" width="11.6" height="19.50" fill="#8ccbd3"/>
<rect x="801.46" y="1078.47" width="11.6" height="19.50" fill="#b6ccf6"/>
<rect x="819.96" y="1452.80" width="11.6" height="19.50" fill="#4f84ec"/>
<rect x="819.96" y="1401.60" width="11.6" height="51.50" fill="#dc4a3d"/>
<rect x="819.96" y="1382.40" width="11.6" height="19.50" fill="#f2bd42"/>
<rect x="819.96" y="1350.40" width="11.6" height="32.30" fill="#58a55c"/>
<rect x="819.96" y="1324.80" width="11.6" height="25.90" fill="#ee7430"/>
<rect x="819.96" y="1283.73" width="11.6" height="41.37" fill="#62b5c4"/>
<rect x="819.96" y="1276.00" width="11.6" height="8.03" fill="#7ea9ef"/>
<rect x="819.96" y="1223.52" width="11.6" height="52.77" fill="#e17d75"/>
<rect x="819.96" y="1148.19" width="11.6" height="75.63" fill="#f4d067"/>
<rect x="819.96" y="1116.19" width="11.6" height="32.30" fill="#80be88"/>
<rect x="819.96" y="1109.79" width="11.6" height="6.70" fill="#eb9857"/>
<rect x="819.96" y="1090.59" width="11.6" height="19.50" fill="#8ccbd3"/>
<rect x="819.96" y="1071.39" width="11.6" height="19.50" fill="#b6ccf6"/>
<rect x="838.45" y="1452.80" width="11.6" height="19.50" fill="#4f84ec"/>
<rect x="838.45" y="1401.60" width="11.6" height="51.50" fill="#dc4a3d"/>
<rect x="838.45" y="1382.40" width="11.6" height="19.50" fill="#f2bd42"/>
<rect x="838.45" y="1350.40" width="11.6" height="32.30" fill="#58a55c"/>
<rect x="838.45" y="1324.80" width="11.6" height="25.90" fill="#ee7430"/>
<rect x="838.45" y="1281.99" width="11.6" height="43.11" fill="#62b5c4"/>
<rect x="838.45" y="1273.99" width="11.6" height="8.30" fill="#7ea9ef"/>
<rect x="838.45" y="1219.03" width="11.6" height="55.26" fill="#e17d75"/>
<rect x="838.45" y="1141.11" width="11.6" height="78.22" fill="#f4d067"/>
<rect x="838.45" y="1109.11" width="11.6" height="32.30" fill="#80be88"/>
<rect x="838.45" y="1102.71" width="11.6" height="6.70" fill="#eb9857"/>
<rect x="838.45" y="1083.51" width="11.6" height="19.50" fill="#8ccbd3"/>
<rect x="838.45" y="1064.31" width="11.6" height="19.50" fill="#b6ccf6"/>
<rect x="856.95" y="1452.80" width="11.6" height="19.50" fill="#4f84ec"/>
<rect x="856.95" y="1401.60" width="11.6" height="51.50" fill="#dc4a3d"/>
<rect x="856.95" y="1382.40" width="11.6" height="19.50" fill="#f2bd42"/>
<rect x="856.95" y="1350.40" width="11.6" height="32.30" fill="#58a55c"/>
<rect x="856.95" y="1324.80" width="11.6" height="25.90" fill="#ee7430"/>
<rect x="856.95" y="1280.25" width="11.6" height="44.85" fill="#62b5c4"/>
<rect x="856.95" y="1271.98" width="11.6" height="8.57" fill="#7ea9ef"/>
<rect x="856.95" y="1214.53" width="11.6" height="57.75" fill="#e17d75"/>
<rect x="856.95" y="1134.02" width="11.6" height="80.81" fill="#f4d067"/>
<rect x="856.95" y="1102.02" width="11.6" height="32.30" fill="#80be88"/>
<rect x="856.95" y="1095.62" width="11.6" height="6.70" fill="#eb9857"/>
<rect x="856.95" y="1076.42" width="11.6" height="19.50" fill="#8ccbd3"/>
<rect x="856.95" y="1057.22" width="11.6" height="19.50" fill="#b6ccf6"/>
<rect x="875.44" y="1452.80" width="11.6" height="19.50" fill="#4f84ec"/>
<rect x="875.44" y="1401.60" width="11.6" height="51.50" fill="#dc4a3d"/>
<rect x="875.44" y="1382.40" width="11.6" height="19.50" fill="#f2bd42"/>
<rect x="875.44" y="1350.40" width="11.6" height="32.30" fill="#58a55c"/>
<rect x="875.44" y="1324.80" width="11.6" height="25.90" fill="#ee7430"/>
<rect x="875.44" y="1278.51" width="11.6" height="46.59" fill="#62b5c4"/>
<rect x="875.44" y="1269.97" width="11.6" height="8.83" fill="#7ea9ef"/>
<rect x="875.44" y="1210.03" width="11.6" height="60.24" fill="#e17d75"/>
<rect x="875.44" y="1126.94" width="11.6" height="83.39" fill="#f4d067"/>
<rect x="875.44" y="1094.94" width="11.6" height="32.30" fill="#80be88"/>
<rect x="875.44" y="1088.54" width="11.6" height="6.70" fill="#eb9857"/>
<rect x="875.44" y="1069.34" width="11.6" height="19.50" fill="#8ccbd3"/>
<rect x="875.44" y="1050.14" width="11.6" height="19.50" fill="#b6ccf6"/>
<rect x="893.94" y="1452.80" width="11.6" height="19.50" fill="#4f84ec"/>
<rect x="893.94" y="1401.60" width="11.6" height="51.50" fill="#dc4a3d"/>
<rect x="893.94" y="1382.40" width="11.6" height="19.50" fill="#f2bd42"/>
<rect x="893.94" y="1350.40" width="11.6" height="32.30" fill="#58a55c"/>
<rect x="893.94" y="1324.80" width="11.6" height="25.90" fill="#ee7430"/>
<rect x="893.94" y="1276.77" width="11.6" height="48.33" fill="#62b5c4"/>
<rect x="893.94" y="1267.97" width="11.6" height="9.10" fill="#7ea9ef"/>
<rect x="893.94" y="1205.54" width="11.6" height="62.73" fill="#e17d75"/>
<rect x="893.94" y="1119.86" width="11.6" height="85.98" fill="#f4d067"/>
<rect x="893.94" y="1087.86" width="11.6" height="32.30" fill="#80be88"/>
<rect x="893.94" y="1081.46" width="11.6" height="6.70" fill="#eb9857"/>
<rect x="893.94" y="1062.26" width="11.6" height="19.50" fill="#8ccbd3"/>
<rect x="893.94" y="1043.06" width="11.6" height="19.50" fill="#b6ccf6"/>
<rect x="912.43" y="1452.80" width="11.6" height="19.50" fill="#4f84ec"/>
<rect x="912.43" y="1401.60" width="11.6" height="51.50" fill="#dc4a3d"/>
<rect x="912.43" y="1382.40" width="11.6" height="19.50" fill="#f2bd42"/>
<rect x="912.43" y="1350.40" width="11.6" height="32.30" fill="#58a55c"/>
<rect x="912.43" y="1324.80" width="11.6" height="25.90" fill="#ee7430"/>
<rect x="912.43" y="1275.02" width="11.6" height="50.08" fill="#62b5c4"/>
<rect x="912.43" y="1265.96" width="11.6" height="9.37" fill="#7ea9ef"/>
<rect x="912.43" y="1201.04" width="11.6" height="65.22" fill="#e17d75"/>
<rect x="912.43" y="1112.77" width="11.6" height="88.57" fill="#f4d067"/>
<rect x="912.43" y="1080.77" width="11.6" height="32.30" fill="#80be88"/>
<rect x="912.43" y="1074.37" width="11.6" height="6.70" fill="#eb9857"/>
<rect x="912.43" y="1055.17" width="11.6" height="19.50" fill="#8ccbd3"/>
<rect x="912.43" y="1035.97" width="11.6" height="19.50" fill="#b6ccf6"/>
<rect x="930.93" y="1452.80" width="11.6" height="19.50" fill="#4f84ec"/>
<rect x="930.93" y="1401.60" width="11.6" height="51.50" fill="#dc4a3d"/>
<rect x="930.93" y="1382.40" width="11.6" height="19.50" fill="#f2bd42"/>
<rect x="930.93" y="1350.40" width="11.6" height="32.30" fill="#58a55c"/>
<rect x="930.93" y="1324.80" width="11.6" height="25.90" fill="#ee7430"/>
<rect x="930.93" y="1273.28" width="11.6" height="51.82" fill="#62b5c4"/>
<rect x="930.93" y="1263.95" width="11.6" height="9.63" fill="#7ea9ef"/>
<rect x="930.93" y="1196.54" width="11.6" height="67.71" fill="#e17d75"/>
<rect x="930.93" y="1105.69" width="11.6" height="91.15" fill="#f4d067"/>
<rect x="930.93" y="1073.69" width="11.6" height="32.30" fill="#80be88"/>
<rect x="930.93" y="1067.29" width="11.6" height="6.70" fill="#eb9857"/>
<rect x="930.93" y="1048.09" width="11.6" height="19.50" fill="#8ccbd3"/>
<rect x="930.93" y="1028.89" width="11.6" height="19.50" fill="#b6ccf6"/>
<rect x="949.42" y="1452.80" width="11.6" height="19.50" fill="#4f84ec"/>
<rect x="949.42" y="1401.60" width="11.6" height="51.50" fill="#dc4a3d"/>
<rect x="949.42" y="1382.40" width="11.6" height="19.50" fill="#f2bd42"/>
<rect x="949.42" y="1350.40" width="11.6" height="32.30" fill="#58a55c"/>
<rect x="949.42" y="1324.80" width="11.6" height="25.90" fill="#ee7430"/>
<rect x="949.42" y="1271.54" width="11.6" height="53.56" fill="#62b5c4"/>
<rect x="949.42" y="1261.94" width="11.6" height="9.90" fill="#7ea9ef"/>
<rect x="949.42" y="1192.05" width="11.6" height="70.20" fill="#e17d75"/>
<rect x="949.42" y="1098.61" width="11.6" height="93.74" fill="#f4d067"/>
<rect x="949.42" y="1066.61" width="11.6" height="32.30" fill="#80be88"/>
<rect x="949.42" y="1060.21" width="11.6" height="6.70" fill="#eb9857"/>
<rect x="949.42" y="1041.01" width="11.6" height="19.50" fill="#8ccbd3"/>
<rect x="949.42" y="1021.81" width="11.6" height="19.50" fill="#b6ccf6"/>
<rect x="967.92" y="1452.80" width="11.6" height="19.50" fill="#4f84ec"/>
<rect x="967.92" y="1401.60" width="11.6" height="51.50" fill="#dc4a3d"/>
<rect x="967.92" y="1382.40" width="11.6" height="19.50" fill="#f2bd42"/>
<rect x="967.92" y="1350.40" width="11.6" height="32.30" fill="#58a55c"/>
<rect x="967.92" y="1324.80" width="11.6" height="25.90" fill="#ee7430"/>
<rect x="967.92" y="1269.72" width="11.6" height="55.38" fill="#62b5c4"/>
<rect x="967.92" y="1259.86" width="11.6" height="10.17" fill="#7ea9ef"/>
<rect x="967.92" y="1186.90" width="11.6" height="73.26" fill="#e17d75"/>
<rect x="967.92" y="1091.00" width="11.6" height="96.19" fill="#f4d067"/>
<rect x="967.92" y="1059.00" width="11.6" height="32.30" fill="#80be88"/>
<rect x="967.92" y="1052.60" width="11.6" height="6.70" fill="#eb9857"/>
<rect x="967.92" y="1033.40" width="11.6" height="19.50" fill="#8ccbd3"/>
<rect x="967.92" y="1014.20" width="11.6" height="19.50" fill="#b6ccf6"/>
<rect x="986.41" y="1452.80" width="11.6" height="19.50" fill="#4f84ec"/>
<rect x="986.41" y="1401.60" width="11.6" height="51.50" fill="#dc4a3d"/>
<rect x="986.41" y="1382.40" width="11.6" height="19.50" fill="#f2bd42"/>
<rect x="986.41" y="1350.40" width="11.6" height="32.30" fill="#58a55c"/>
<rect x="986.41" y="1324.80" width="11.6" height="25.90" fill="#ee7430"/>
<rect x="986.41" y="1267.90" width="11.6" height="57.20" fill="#62b5c4"/>
<rect x="986.41" y="1257.77" width="11.6" height="10.43" fill="#7ea9ef"/>
<rect x="986.41" y="1181.74" width="11.6" height="76.32" fill="#e17d75"/>
<rect x="986.41" y="1083.40" width="11.6" height="98.65" fill="#f4d067"/>
<rect x="986.41" y="1051.40" width="11.6" height="32.30" fill="#80be88"/>
<rect x="986.41" y="1045.00" width="11.6" height="6.70" fill="#eb9857"/>
<rect x="986.41" y="1025.80" width="11.6" height="19.50" fill="#8ccbd3"/>
<rect x="986.41" y="1006.60" width="11.6" height="19.50" fill="#b6ccf6"/>
<rect x="1004.91" y="1452.80" width="11.6" height="19.50" fill="#4f84ec"/>
<rect x="1004.91" y="1401.60" width="11.6" height="51.50" fill="#dc4a3d"/>
<rect x="1004.91" y="1382.40" width="11.6" height="19.50" fill="#f2bd42"/>
<rect x="1004.91" y="1350.40" width="11.6" height="32.30" fill="#58a55c"/>
<rect x="1004.91" y="1324.80" width="11.6" height="25.90" fill="#ee7430"/>
<rect x="1004.91" y="1266.08" width="11.6" height="59.02" fill="#62b5c4"/>
<rect x="1004.91" y="1255.68" width="11.6" height="10.70" fill="#7ea9ef"/>
<rect x="1004.91" y="1176.59" width="11.6" height="79.39" fill="#e17d75"/>
<rect x="1004.91" y="1075.79" width="11.6" height="101.10" fill="#f4d067"/>
<rect x="1004.91" y="1043.79" width="11.6" height="32.30" fill="#80be88"/>
<rect x="1004.91" y="1037.39" width="11.6" height="6.70" fill="#eb9857"/>
<rect x="1004.91" y="1018.19" width="11.6" height="19.50" fill="#8ccbd3"/>
<rect x="1004.91" y="998.99" width="11.6" height="19.50" fill="#b6ccf6"/>
<rect x="1023.40" y="1452.80" width="11.6" height="19.50" fill="#4f84ec"/>
<rect x="1023.40" y="1401.60" width="11.6" height="51.50" fill="#dc4a3d"/>
<rect x="1023.40" y="1382.40" width="11.6" height="19.50" fill="#f2bd42"/>
<rect x="1023.40" y="1350.40" width="11.6" height="32.30" fill="#58a55c"/>
<rect x="1023.40" y="1324.80" width="11.6" height="25.90" fill="#ee7430"/>
<rect x="1023.40" y="1264.26" width="11.6" height="60.84" fill="#62b5c4"/>
<rect x="1023.40" y="1253.59" width="11.6" height="10.97" fill="#7ea9ef"/>
<rect x="1023.40" y="1171.44" width="11.6" height="82.45" fill="#e17d75"/>
<rect x="1023.40" y="1068.19" width="11.6" height="103.55" fill="#f4d067"/>
<rect x="1023.40" y="1036.19" width="11.6" height="32.30" fill="#80be88"/>
<rect x="1023.40" y="1029.79" width="11.6" height="6.70" fill="#eb9857"/>
<rect x="1023.40" y="1010.59" width="11.6" height="19.50" fill="#8ccbd3"/>
<rect x="1023.40" y="991.39" width="11.6" height="19.50" fill="#b6ccf6"/>
<rect x="1041.90" y="1452.80" width="11.6" height="19.50" fill="#4f84ec"/>
<rect x="1041.90" y="1401.60" width="11.6" height="51.50" fill="#dc4a3d"/>
<rect x="1041.90" y="1382.40" width="11.6" height="19.50" fill="#f2bd42"/>
<rect x="1041.90" y="1350.40" width="11.6" height="32.30" fill="#58a55c"/>
<rect x="1041.90" y="1324.80" width="11.6" height="25.90" fill="#ee7430"/>
<rect x="1041.90" y="1262.44" width="11.6" height="62.66" fill="#62b5c4"/>
<rect x="1041.90" y="1251.50" width="11.6" height="11.23" fill="#7ea9ef"/>
<rect x="1041.90" y="1166.29" width="11.6" height="85.52" fill="#e17d75"/>
<rect x="1041.90" y="1060.58" width="11.6" height="106.01" fill="#f4d067"/>
<rect x="1041.90" y="1028.58" width="11.6" height="32.30" fill="#80be88"/>
<rect x="1041.90" y="1022.18" width="11.6" height="6.70" fill="#eb9857"/>
<rect x="1041.90" y="1002.98" width="11.6" height="19.50" fill="#8ccbd3"/>
<rect x="1041.90" y="983.78" width="11.6" height="19.50" fill="#b6ccf6"/>
<rect x="1060.39" y="1452.80" width="11.6" height="19.50" fill="#4f84ec"/>
<rect x="1060.39" y="1401.60" width="11.6" height="51.50" fill="#dc4a3d"/>
<rect x="1060.39" y="1382.40" width="11.6" height="19.50" fill="#f2bd42"/>
<rect x="1060.39" y="1350.40" width="11.6" height="32.30" fill="#58a55c"/>
<rect x="1060.39" y="1324.80" width="11.6" height="25.90" fill="#ee7430"/>
<rect x="1060.39" y="1260.62" width="11.6" height="64.48" fill="#62b5c4"/>
<rect x="1060.39" y="1249.42" width="11.6" height="11.50" fill="#7ea9ef"/>
<rect x="1060.39" y="1161.13" width="11.6" height="88.58" fill="#e17d75"/>
<rect x="1060.39" y="1052.97" width="11.6" height="108.46" fill="#f4d067"/>
<rect x="1060.39" y="1020.97" width="11.6" height="32.30" fill="#80be88"/>
<rect x="1060.39" y="1014.57" width="11.6" height="6.70" fill="#eb9857"/>
<rect x="1060.39" y="995.37" width="11.6" height="19.50" fill="#8ccbd3"/>
<rect x="1060.39" y="976.17" width="11.6" height="19.50" fill="#b6ccf6"/>
<rect x="1078.88" y="1452.80" width="11.6" height="19.50" fill="#4f84ec"/>
<rect x="1078.88" y="1401.60" width="11.6" height="51.50" fill="#dc4a3d"/>
<rect x="1078.88" y="1382.40" width="11.6" height="19.50" fill="#f2bd42"/>
<rect x="1078.88" y="1350.40" width="11.6" height="32.30" fill="#58a55c"/>
<rect x="1078.88" y="1324.80" width="11.6" height="25.90" fill="#ee7430"/>
<rect x="1078.88" y="1258.80" width="11.6" height="66.30" fill="#62b5c4"/>
<rect x="1078.88" y="1247.33" width="11.6" height="11.77" fill="#7ea9ef"/>
<rect x="1078.88" y="1155.98" width="11.6" height="91.65" fill="#e17d75"/>
<rect x="1078.88" y="1045.37" width="11.6" height="110.91" fill="#f4d067"/>
<rect x="1078.88" y="1013.37" width="11.6" height="32.30" fill="#80be88"/>
<rect x="1078.88" y="1006.97" width="11.6" height="6.70" fill="#eb9857"/>
<rect x="1078.88" y="987.77" width="11.6" height="19.50" fill="#8ccbd3"/>
<rect x="1078.88" y="968.57" width="11.6" height="19.50" fill="#b6ccf6"/>
<rect x="1097.38" y="1452.80" width="11.6" height="19.50" fill="#4f84ec"/>
<rect x="1097.38" y="1401.60" width="11.6" height="51.50" fill="#dc4a3d"/>
<rect x="1097.38" y="1382.40" width="11.6" height="19.50" fill="#f2bd42"/>
<rect x="1097.38" y="1350.40" width="11.6" height="32.30" fill="#58a55c"/>
<rect x="1097.38" y="1324.80" width="11.6" height="25.90" fill="#ee7430"/>
<rect x="1097.38" y="1256.98" width="11.6" height="68.12" fill="#62b5c4"/>
<rect x="1097.38" y="1245.24" width="11.6" height="12.03" fill="#7ea9ef"/>
<rect x="1097.38" y="1150.83" width="11.6" height="94.71" fill="#e17d75"/>
<rect x="1097.38" y="1037.76" width="11.6" height="113.37" fill="#f4d067"/>
<rect x="1097.38" y="1005.76" width="11.6" height="32.30" fill="#80be88"/>
<rect x="1097.38" y="999.36" width="11.6" height="6.70" fill="#eb9857"/>
<rect x="1097.38" y="980.16" width="11.6" height="19.50" fill="#8ccbd3"/>
<rect x="1097.38" y="960.96" width="11.6" height="19.50" fill="#b6ccf6"/>
<rect x="1115.88" y="1452.80" width="11.6" height="19.50" fill="#4f84ec"/>
<rect x="1115.88" y="1401.60" width="11.6" height="51.50" fill="#dc4a3d"/>
<rect x="1115.88" y="1382.40" width="11.6" height="19.50" fill="#f2bd42"/>
<rect x="1115.88" y="1350.40" width="11.6" height="32.30" fill="#58a55c"/>
<rect x="1115.88" y="1324.80" width="11.6" height="25.90" fill="#ee7430"/>
<rect x="1115.88" y="1255.15" width="11.6" height="69.95" fill="#62b5c4"/>
<rect x="1115.88" y="1243.15" width="11.6" height="12.30" fill="#7ea9ef"/>
<rect x="1115.88" y="1145.68" width="11.6" height="97.78" fill="#e17d75"/>
<rect x="1115.88" y="1030.16" width="11.6" height="115.82" fill="#f4d067"/>
<rect x="1115.88" y="998.16" width="11.6" height="32.30" fill="#80be88"/>
<rect x="1115.88" y="991.76" width="11.6" height="6.70" fill="#eb9857"/>
<rect x="1115.88" y="972.56" width="11.6" height="19.50" fill="#8ccbd3"/>
<rect x="1115.88" y="953.36" width="11.6" height="19.50" fill="#b6ccf6"/>
<rect x="1134.37" y="1452.80" width="11.6" height="19.50" fill="#4f84ec"/>
<rect x="1134.37" y="1401.60" width="11.6" height="51.50" fill="#dc4a3d"/>
<rect x="1134.37" y="1382.40" width="11.6" height="19.50" fill="#f2bd42"/>
<rect x="1134.37" y="1350.40" width="11.6" height="32.30" fill="#58a55c"/>
<rect x="1134.37" y="1324.80" width="11.6" height="25.90" fill="#ee7430"/>
<rect x="1134.37" y="1253.33" width="11.6" height="71.77" fill="#62b5c4"/>
<rect x="1134.37" y="1241.07" width="11.6" height="12.57" fill="#7ea9ef"/>
<rect x="1134.37" y="1140.53" width="11.6" height="100.84" fill="#e17d75"/>
<rect x="1134.37" y="1022.55" width="11.6" height="118.27" fill="#f4d067"/>
<rect x="1134.37" y="990.55" width="11.6" height="32.30" fill="#80be88"/>
<rect x="1134.37" y="984.15" width="11.6" height="6.70" fill="#eb9857"/>
<rect x="1134.37" y="964.95" width="11.6" height="19.50" fill="#8ccbd3"/>
<rect x="1134.37" y="945.75" width="11.6" height="19.50" fill="#b6ccf6"/>
<rect x="1152.87" y="1452.80" width="11.6" height="19.50" fill="#4f84ec"/>
<rect x="1152.87" y="1401.60" width="11.6" height="51.50" fill="#dc4a3d"/>
<rect x="1152.87" y="1382.40" width="11.6" height="19.50" fill="#f2bd42"/>
<rect x="1152.87" y="1350.40" width="11.6" height="32.30" fill="#58a55c"/>
<rect x="1152.87" y="1324.80" width="11.6" height="25.90" fill="#ee7430"/>
<rect x="1152.87" y="1251.51" width="11.6" height="73.59" fill="#62b5c4"/>
<rect x="1152.87" y="1238.98" width="11.6" height="12.83" fill="#7ea9ef"/>
<rect x="1152.87" y="1135.37" width="11.6" height="103.91" fill="#e17d75"/>
<rect x="1152.87" y="1014.95" width="11.6" height="120.73" fill="#f4d067"/>
<rect x="1152.87" y="982.95" width="11.6" height="32.30" fill="#80be88"/>
<rect x="1152.87" y="976.55" width="11.6" height="6.70" fill="#eb9857"/>
<rect x="1152.87" y="957.35" width="11.6" height="19.50" fill="#8ccbd3"/>
<rect x="1152.87" y="938.15" width="11.6" height="19.50" fill="#b6ccf6"/>
<rect x="1171.36" y="1452.80" width="11.6" height="19.50" fill="#4f84ec"/>
<rect x="1171.36" y="1401.60" width="11.6" height="51.50" fill="#dc4a3d"/>
<rect x="1171.36" y="1382.40" width="11.6" height="19.50" fill="#f2bd42"/>
<rect x="1171.36" y="1350.40" width="11.6" height="32.30" fill="#58a55c"/>
<rect x="1171.36" y="1324.80" width="11.6" height="25.90" fill="#ee7430"/>
<rect x="1171.36" y="1249.69" width="11.6" height="75.41" fill="#62b5c4"/>
<rect x="1171.36" y="1236.89" width="11.6" height="13.10" fill="#7ea9ef"/>
<rect x="1171.36" y="1130.22" width="11.6" height="106.97" fill="#e17d75"/>
<rect x="1171.36" y="1007.34" width="11.6" height="123.18" fill="#f4d067"/>
<rect x="1171.36" y="975.34" width="11.6" height="32.30" fill="#80be88"/>
<rect x="1171.36" y="968.94" width="11.6" height="6.70" fill="#eb9857"/>
<rect x="1171.36" y="949.74" width="11.6" height="19.50" fill="#8ccbd3"/>
<rect x="1171.36" y="930.54" width="11.6" height="19.50" fill="#b6ccf6"/>
<rect x="1189.86" y="1452.80" width="11.6" height="19.50" fill="#4f84ec"/>
<rect x="1189.86" y="1401.60" width="11.6" height="51.50" fill="#dc4a3d"/>
<rect x="1189.86" y="1382.40" width="11.6" height="19.50" fill="#f2bd42"/>
<rect x="1189.86" y="1350.40" width="11.6" height="32.30" fill="#58a55c"/>
<rect x="1189.86" y="1324.80" width="11.6" height="25.90" fill="#ee7430"/>
<rect x="1189.86" y="1247.95" width="11.6" height="77.15" fill="#62b5c4"/>
<rect x="1189.86" y="1234.88" width="11.6" height="13.37" fill="#7ea9ef"/>
<rect x="1189.86" y="1124.44" width="11.6" height="110.75" fill="#e17d75"/>
<rect x="1189.86" y="999.13" width="11.6" height="125.61" fill="#f4d067"/>
<rect x="1189.86" y="967.13" width="11.6" height="32.30" fill="#80be88"/>
<rect x="1189.86" y="960.73" width="11.6" height="6.70" fill="#eb9857"/>
<rect x="1189.86" y="941.53" width="11.6" height="19.50" fill="#8ccbd3"/>
<rect x="1189.86" y="922.33" width="11.6" height="19.50" fill="#b6ccf6"/>
<rect x="1208.35" y="1452.80" width="11.6" height="19.50" fill="#4f84ec"/>
<rect x="1208.35" y="1401.60" width="11.6" height="51.50" fill="#dc4a3d"/>
<rect x="1208.35" y="1382.40" width="11.6" height="19.50" fill="#f2bd42"/>
<rect x="1208.35" y="1350.40" width="11.6" height="32.30" fill="#58a55c"/>
<rect x="1208.35" y="1324.80" width="11.6" height="25.90" fill="#ee7430"/>
<rect x="1208.35" y="1246.21" width="11.6" height="78.89" fill="#62b5c4"/>
<rect x="1208.35" y="1232.88" width="11.6" height="13.63" fill="#7ea9ef"/>
<rect x="1208.35" y="1118.65" width="11.6" height="114.53" fill="#e17d75"/>
<rect x="1208.35" y="990.92" width="11.6" height="128.03" fill="#f4d067"/>
<rect x="1208.35" y="958.92" width="11.6" height="32.30" fill="#80be88"/>
<rect x="1208.35" y="952.52" width="11.6" height="6.70" fill="#eb9857"/>
<rect x="1208.35" y="933.32" width="11.6" height="19.50" fill="#8ccbd3"/>
<rect x="1208.35" y="914.12" width="11.6" height="19.50" fill="#b6ccf6"/>
<rect x="1226.85" y="1452.80" width="11.6" height="19.50" fill="#4f84ec"/>
<rect x="1226.85" y="1401.60" width="11.6" height="51.50" fill="#dc4a3d"/>
<rect x="1226.85" y="1382.40" width="11.6" height="19.50" fill="#f2bd42"/>
<rect x="1226.85" y="1350.40" width="11.6" height="32.30" fill="#58a55c"/>
<rect x="1226.85" y="1324.80" width="11.6" height="25.90" fill="#ee7430"/>
<rect x="1226.85" y="1244.47" width="11.6" height="80.63" fill="#62b5c4"/>
<rect x="1226.85" y="1230.87" width="11.6" height="13.90" fill="#7ea9ef"/>
<rect x="1226.85" y="1112.87" width="11.6" height="118.30" fill="#e17d75"/>
<rect x="1226.85" y="982.71" width="11.6" height="130.46" fill="#f4d067"/>
<rect x="1226.85" y="950.71" width="11.6" height="32.30" fill="#80be88"/>
<rect x="1226.85" y="944.31" width="11.6" height="6.70" fill="#eb9857"/>
<rect x="1226.85" y="925.11" width="11.6" height="19.50" fill="#8ccbd3"/>
<rect x="1226.85" y="905.91" width="11.6" height="19.50" fill="#b6ccf6"/>
<rect x="1245.34" y="1452.80" width="11.6" height="19.50" fill="#4f84ec"/>
<rect x="1245.34" y="1401.60" width="11.6" height="51.50" fill="#dc4a3d"/>
<rect x="1245.34" y="1382.40" width="11.6" height="19.50" fill="#f2bd42"/>
<rect x="1245.34" y="1350.40" width="11.6" height="32.30" fill="#58a55c"/>
<rect x="1245.34" y="1324.80" width="11.6" height="25.90" fill="#ee7430"/>
<rect x="1245.34" y="1242.73" width="11.6" height="82.37" fill="#62b5c4"/>
<rect x="1245.34" y="1228.86" width="11.6" height="14.17" fill="#7ea9ef"/>
<rect x="1245.34" y="1107.08" width="11.6" height="122.08" fill="#e17d75"/>
<rect x="1245.34" y="974.49" width="11.6" height="132.89" fill="#f4d067"/>
<rect x="1245.34" y="942.49" width="11.6" height="32.30" fill="#80be88"/>
<rect x="1245.34" y="936.09" width="11.6" height="6.70" fill="#eb9857"/>
<rect x="1245.34" y="916.89" width="11.6" height="19.50" fill="#8ccbd3"/>
<rect x="1245.34" y="897.69" width="11.6" height="19.50" fill="#b6ccf6"/>
<rect x="1263.84" y="1452.80" width="11.6" height="19.50" fill="#4f84ec"/>
<rect x="1263.84" y="1401.60" width="11.6" height="51.50" fill="#dc4a3d"/>
<rect x="1263.84" y="1382.40" width="11.6" height="19.50" fill="#f2bd42"/>
<rect x="1263.84" y="1350.40" width="11.6" height="32.30" fill="#58a55c"/>
<rect x="1263.84" y="1324.80" width="11.6" height="25.90" fill="#ee7430"/>
<rect x="1263.84" y="1240.99" width="11.6" height="84.11" fill="#62b5c4"/>
<rect x="1263.84" y="1226.85" width="11.6" height="14.43" fill="#7ea9ef"/>
<rect x="1263.84" y="1101.30" width="11.6" height="125.86" fill="#e17d75"/>
<rect x="1263.84" y="966.28" width="11.6" height="135.31" fill="#f4d067"/>
<rect x="1263.84" y="934.28" width="11.6" height="32.30" fill="#80be88"/>
<rect x="1263.84" y="927.88" width="11.6" height="6.70" fill="#eb9857"/>
<rect x="1263.84" y="908.68" width="11.6" height="19.50" fill="#8ccbd3"/>
<rect x="1263.84" y="889.48" width="11.6" height="19.50" fill="#b6ccf6"/>
<rect x="1282.33" y="1452.80" width="11.6" height="19.50" fill="#4f84ec"/>
<rect x="1282.33" y="1401.60" width="11.6" height="51.50" fill="#dc4a3d"/>
<rect x="1282.33" y="1382.40" width="11.6" height="19.50" fill="#f2bd42"/>
<rect x="1282.33" y="1350.40" width="11.6" height="32.30" fill="#58a55c"/>
<rect x="1282.33" y="1324.80" width="11.6" height="25.90" fill="#ee7430"/>
<rect x="1282.33" y="1239.25" width="11.6" height="85.85" fill="#62b5c4"/>
<rect x="1282.33" y="1224.85" width="11.6" height="14.70" fill="#7ea9ef"/>
<rect x="1282.33" y="1095.51" width="11.6" height="129.64" fill="#e17d75"/>
<rect x="1282.33" y="958.07" width="11.6" height="137.74" fill="#f4d067"/>
<rect x="1282.33" y="926.07" width="11.6" height="32.30" fill="#80be88"/>
<rect x="1282.33" y="919.67" width="11.6" height="6.70" fill="#eb9857"/>
<rect x="1282.33" y="900.47" width="11.6" height="19.50" fill="#8ccbd3"/>
<rect x="1282.33" y="881.27" width="11.6" height="19.50" fill="#b6ccf6"/>
<rect x="1300.83" y="1452.80" width="11.6" height="19.50" fill="#4f84ec"/>
<rect x="1300.83" y="1401.60" width="11.6" height="51.50" fill="#dc4a3d"/>
<rect x="1300.83" y="1382.40" width="11.6" height="19.50" fill="#f2bd42"/>
<rect x="1300.83" y="1350.40" width="11.6" height="32.30" fill="#58a55c"/>
<rect x="1300.83" y="1324.80" width="11.6" height="25.90" fill="#ee7430"/>
<rect x="1300.83" y="1237.50" width="11.6" height="87.60" fill="#62b5c4"/>
<rect x="1300.83" y="1222.84" width="11.6" height="14.97" fill="#7ea9ef"/>
<rect x="1300.83" y="1089.73" width="11.6" height="133.41" fill="#e17d75"/>
<rect x="1300.83" y="949.86" width="11.6" height="140.17" fill="#f4d067"/>
<rect x="1300.83" y="917.86" width="11.6" height="32.30" fill="#80be88"/>
<rect x="1300.83" y="911.46" width="11.6" height="6.70" fill="#eb9857"/>
<rect x="1300.83" y="892.26" width="11.6" height="19.50" fill="#8ccbd3"/>
<rect x="1300.83" y="873.06" width="11.6" height="19.50" fill="#b6ccf6"/>
<rect x="1319.32" y="1452.80" width="11.6" height="19.50" fill="#4f84ec"/>
<rect x="1319.32" y="1401.60" width="11.6" height="51.50" fill="#dc4a3d"/>
<rect x="1319.32" y="1382.40" width="11.6" height="19.50" fill="#f2bd42"/>
<rect x="1319.32" y="1350.40" width="11.6" height="32.30" fill="#58a55c"/>
<rect x="1319.32" y="1324.80" width="11.6" height="25.90" fill="#ee7430"/>
<rect x="1319.32" y="1235.76" width="11.6" height="89.34" fill="#62b5c4"/>
<rect x="1319.32" y="1220.83" width="11.6" height="15.23" fill="#7ea9ef"/>
<rect x="1319.32" y="1083.94" width="11.6" height="137.19" fill="#e17d75"/>
<rect x="1319.32" y="941.65" width="11.6" height="142.59" fill="#f4d067"/>
<rect x="1319.32" y="909.65" width="11.6" height="32.30" fill="#80be88"/>
<rect x="1319.32" y="903.25" width="11.6" height="6.70" fill="#eb9857"/>
<rect x="1319.32" y="884.05" width="11.6" height="19.50" fill="#8ccbd3"/>
<rect x="1319.32" y="864.85" width="11.6" height="19.50" fill="#b6ccf6"/>
<rect x="1337.82" y="1452.80" width="11.6" height="19.50" fill="#4f84ec"/>
<rect x="1337.82" y="1401.60" width="11.6" height="51.50" fill="#dc4a3d"/>
<rect x="1337.82" y="1382.40" width="11.6" height="19.50" fill="#f2bd42"/>
<rect x="1337.82" y="1350.40" width="11.6" height="32.30" fill="#58a55c"/>
<rect x="1337.82" y="1324.80" width="11.6" height="25.90" fill="#ee7430"/>
<rect x="1337.82" y="1234.02" width="11.6" height="91.08" fill="#62b5c4"/>
<rect x="1337.82" y="1218.82" width="11.6" height="15.50" fill="#7ea9ef"/>
<rect x="1337.82" y="1078.16" width="11.6" height="140.97" fill="#e17d75"/>
<rect x="1337.82" y="933.44" width="11.6" height="145.02" fill="#f4d067"/>
<rect x="1337.82" y="901.44" width="11.6" height="32.30" fill="#80be88"/>
<rect x="1337.82" y="895.04" width="11.6" height="6.70" fill="#eb9857"/>
<rect x="1337.82" y="875.84" width="11.6" height="19.50" fill="#8ccbd3"/>
<rect x="1337.82" y="856.64" width="11.6" height="19.50" fill="#b6ccf6"/>
<rect x="1356.31" y="1452.80" width="11.6" height="19.50" fill="#4f84ec"/>
<rect x="1356.31" y="1401.60" width="11.6" height="51.50" fill="#dc4a3d"/>
<rect x="1356.31" y="1382.40" width="11.6" height="19.50" fill="#f2bd42"/>
<rect x="1356.31" y="1350.40" width="11.6" height="32.30" fill="#58a55c"/>
<rect x="1356.31" y="1324.80" width="11.6" height="25.90" fill="#ee7430"/>
<rect x="1356.31" y="1232.28" width="11.6" height="92.82" fill="#62b5c4"/>
<rect x="1356.31" y="1216.82" width="11.6" height="15.77" fill="#7ea9ef"/>
<rect x="1356.31" y="1072.37" width="11.6" height="144.75" fill="#e17d75"/>
<rect x="1356.31" y="925.22" width="11.6" height="147.45" fill="#f4d067"/>
<rect x="1356.31" y="893.22" width="11.6" height="32.30" fill="#80be88"/>
<rect x="1356.31" y="886.82" width="11.6" height="6.70" fill="#eb9857"/>
<rect x="1356.31" y="867.62" width="11.6" height="19.50" fill="#8ccbd3"/>
<rect x="1356.31" y="848.42" width="11.6" height="19.50" fill="#b6ccf6"/>
<rect x="1374.81" y="1452.80" width="11.6" height="19.50" fill="#4f84ec"/>
<rect x="1374.81" y="1401.60" width="11.6" height="51.50" fill="#dc4a3d"/>
<rect x="1374.81" y="1382.40" width="11.6" height="19.50" fill="#f2bd42"/>
<rect x="1374.81" y="1350.40" width="11.6" height="32.30" fill="#58a55c"/>
<rect x="1374.81" y="1324.80" width="11.6" height="25.90" fill="#ee7430"/>
<rect x="1374.81" y="1230.54" width="11.6" height="94.56" fill="#62b5c4"/>
<rect x="1374.81" y="1214.81" width="11.6" height="16.03" fill="#7ea9ef"/>
<rect x="1374.81" y="1066.59" width="11.6" height="148.52" fill="#e17d75"/>
<rect x="1374.81" y="917.01" width="11.6" height="149.87" fill="#f4d067"/>
<rect x="1374.81" y="885.01" width="11.6" height="32.30" fill="#80be88"/>
<rect x="1374.81" y="878.61" width="11.6" height="6.70" fill="#eb9857"/>
<rect x="1374.81" y="859.41" width="11.6" height="19.50" fill="#8ccbd3"/>
<rect x="1374.81" y="840.21" width="11.6" height="19.50" fill="#b6ccf6"/>
<rect x="1393.30" y="1452.80" width="11.6" height="19.50" fill="#4f84ec"/>
<rect x="1393.30" y="1401.60" width="11.6" height="51.50" fill="#dc4a3d"/>
<rect x="1393.30" y="1382.40" width="11.6" height="19.50" fill="#f2bd42"/>
<rect x="1393.30" y="1350.40" width="11.6" height="32.30" fill="#58a55c"/>
<rect x="1393.30" y="1324.80" width="11.6" height="25.90" fill="#ee7430"/>
<rect x="1393.30" y="1228.80" width="11.6" height="96.30" fill="#62b5c4"/>
<rect x="1393.30" y="1212.80" width="11.6" height="16.30" fill="#7ea9ef"/>
<rect x="1393.30" y="1060.80" width="11.6" height="152.30" fill="#e17d75"/>
<rect x="1393.30" y="908.80" width="11.6" height="152.30" fill="#f4d067"/>
<rect x="1393.30" y="876.80" width="11.6" height="32.30" fill="#80be88"/>
<rect x="1393.30" y="870.40" width="11.6" height="6.70" fill="#eb9857"/>
<rect x="1393.30" y="851.20" width="11.6" height="19.50" fill="#8ccbd3"/>
<rect x="1393.30" y="832.00" width="11.6" height="19.50" fill="#b6ccf6"/>
<rect x="276.2" y="832" width="1.3" height="640.5" fill="#333"/>
<rect x="276.2" y="1471.2" width="1134.3" height="1.5" fill="#555"/>
<text x="267" y="1477.6" text-anchor="end" class="yl">0.00</text>
<text x="267" y="1317.6" text-anchor="end" class="yl">50.00</text>
<text x="267" y="1157.6" text-anchor="end" class="yl">100.00</text>
<text x="267" y="997.6" text-anchor="end" class="yl">150.00</text>
<text x="267" y="837.6" text-anchor="end" class="yl">200.00</text>
<text transform="translate(293.80,1480.6) rotate(-90)" text-anchor="end" class="xl">0</text>
<text transform="translate(312.29,1480.6) rotate(-90)" text-anchor="end" class="xl">1</text>
<text transform="translate(330.79,1480.6) rotate(-90)" text-anchor="end" class="xl">2</text>
<text transform="translate(349.28,1480.6) rotate(-90)" text-anchor="end" class="xl">3</text>
<text transform="translate(367.78,1480.6) rotate(-90)" text-anchor="end" class="xl">4</text>
<text transform="translate(386.27,1480.6) rotate(-90)" text-anchor="end" class="xl">5</text>
<text transform="translate(404.77,1480.6) rotate(-90)" text-anchor="end" class="xl">6</text>
<text transform="translate(423.26,1480.6) rotate(-90)" text-anchor="end" class="xl">7</text>
<text transform="translate(441.76,1480.6) rotate(-90)" text-anchor="end" class="xl">8</text>
<text transform="translate(460.25,1480.6) rotate(-90)" text-anchor="end" class="xl">9</text>
<text transform="translate(478.75,1480.6) rotate(-90)" text-anchor="end" class="xl">10</text>
<text transform="translate(497.25,1480.6) rotate(-90)" text-anchor="end" class="xl">11</text>
<text transform="translate(515.74,1480.6) rotate(-90)" text-anchor="end" class="xl">12</text>
<text transform="translate(534.24,1480.6) rotate(-90)" text-anchor="end" class="xl">13</text>
<text transform="translate(552.73,1480.6) rotate(-90)" text-anchor="end" class="xl">14</text>
<text transform="translate(571.23,1480.6) rotate(-90)" text-anchor="end" class="xl">15</text>
<text transform="translate(589.72,1480.6) rotate(-90)" text-anchor="end" class="xl">16</text>
<text transform="translate(608.22,1480.6) rotate(-90)" text-anchor="end" class="xl">17</text>
<text transform="translate(626.71,1480.6) rotate(-90)" text-anchor="end" class="xl">18</text>
<text transform="translate(645.21,1480.6) rotate(-90)" text-anchor="end" class="xl">19</text>
<text transform="translate(663.70,1480.6) rotate(-90)" text-anchor="end" class="xl">20</text>
<text transform="translate(682.20,1480.6) rotate(-90)" text-anchor="end" class="xl">21</text>
<text transform="translate(700.69,1480.6) rotate(-90)" text-anchor="end" class="xl">22</text>
<text transform="translate(719.19,1480.6) rotate(-90)" text-anchor="end" class="xl">23</text>
<text transform="translate(737.68,1480.6) rotate(-90)" text-anchor="end" class="xl">24</text>
<text transform="translate(756.17,1480.6) rotate(-90)" text-anchor="end" class="xl">25</text>
<text transform="translate(774.67,1480.6) rotate(-90)" text-anchor="end" class="xl">26</text>
<text transform="translate(793.16,1480.6) rotate(-90)" text-anchor="end" class="xl">27</text>
<text transform="translate(811.66,1480.6) rotate(-90)" text-anchor="end" class="xl">28</text>
<text transform="translate(830.15,1480.6) rotate(-90)" text-anchor="end" class="xl">29</text>
<text transform="translate(848.65,1480.6) rotate(-90)" text-anchor="end" class="xl">30</text>
<text transform="translate(867.14,1480.6) rotate(-90)" text-anchor="end" class="xl">31</text>
<text transform="translate(885.64,1480.6) rotate(-90)" text-anchor="end" class="xl">32</text>
<text transform="translate(904.13,1480.6) rotate(-90)" text-anchor="end" class="xl">33</text>
<text transform="translate(922.63,1480.6) rotate(-90)" text-anchor="end" class="xl">34</text>
<text transform="translate(941.12,1480.6) rotate(-90)" text-anchor="end" class="xl">35</text>
<text transform="translate(959.62,1480.6) rotate(-90)" text-anchor="end" class="xl">36</text>
<text transform="translate(978.12,1480.6) rotate(-90)" text-anchor="end" class="xl">37</text>
<text transform="translate(996.61,1480.6) rotate(-90)" text-anchor="end" class="xl">38</text>
<text transform="translate(1015.11,1480.6) rotate(-90)" text-anchor="end" class="xl">39</text>
<text transform="translate(1033.60,1480.6) rotate(-90)" text-anchor="end" class="xl">40</text>
<text transform="translate(1052.10,1480.6) rotate(-90)" text-anchor="end" class="xl">41</text>
<text transform="translate(1070.59,1480.6) rotate(-90)" text-anchor="end" class="xl">42</text>
<text transform="translate(1089.09,1480.6) rotate(-90)" text-anchor="end" class="xl">43</text>
<text transform="translate(1107.58,1480.6) rotate(-90)" text-anchor="end" class="xl">44</text>
<text transform="translate(1126.08,1480.6) rotate(-90)" text-anchor="end" class="xl">45</text>
<text transform="translate(1144.57,1480.6) rotate(-90)" text-anchor="end" class="xl">46</text>
<text transform="translate(1163.07,1480.6) rotate(-90)" text-anchor="end" class="xl">47</text>
<text transform="translate(1181.56,1480.6) rotate(-90)" text-anchor="end" class="xl">48</text>
<text transform="translate(1200.06,1480.6) rotate(-90)" text-anchor="end" class="xl">49</text>
<text transform="translate(1218.55,1480.6) rotate(-90)" text-anchor="end" class="xl">50</text>
<text transform="translate(1237.05,1480.6) rotate(-90)" text-anchor="end" class="xl">51</text>
<text transform="translate(1255.54,1480.6) rotate(-90)" text-anchor="end" class="xl">52</text>
<text transform="translate(1274.04,1480.6) rotate(-90)" text-anchor="end" class="xl">53</text>
<text transform="translate(1292.53,1480.6) rotate(-90)" text-anchor="end" class="xl">54</text>
<text transform="translate(1311.03,1480.6) rotate(-90)" text-anchor="end" class="xl">55</text>
<text transform="translate(1329.52,1480.6) rotate(-90)" text-anchor="end" class="xl">56</text>
<text transform="translate(1348.02,1480.6) rotate(-90)" text-anchor="end" class="xl">57</text>
<text transform="translate(1366.51,1480.6) rotate(-90)" text-anchor="end" class="xl">58</text>
<text transform="translate(1385.01,1480.6) rotate(-90)" text-anchor="end" class="xl">59</text>
<text transform="translate(1403.50,1480.6) rotate(-90)" text-anchor="end" class="xl">60</text>
<rect x="1456" y="826.5" width="12" height="12" fill="#b6ccf6"/>
<text x="1476.5" y="838.1" class="lg">Marketing</text>
<rect x="1456" y="853.9" width="12" height="12" fill="#8ccbd3"/>
<text x="1476.5" y="865.5" class="lg">R&amp;D</text>
<rect x="1456" y="881.3" width="12" height="12" fill="#eb9857"/>
<text x="1476.5" y="892.9" class="lg">Airdrop</text>
<rect x="1456" y="908.8" width="12" height="12" fill="#80be88"/>
<text x="1476.5" y="920.4" class="lg">Advisor</text>
<rect x="1456" y="936.2" width="12" height="12" fill="#f4d067"/>
<text x="1476.5" y="947.8" class="lg">Game Rewards</text>
<rect x="1456" y="963.6" width="12" height="12" fill="#e17d75"/>
<text x="1476.5" y="975.2" class="lg">LP Rewards</text>
<rect x="1456" y="991.0" width="12" height="12" fill="#7ea9ef"/>
<text x="1476.5" y="1002.6" class="lg">Treasury (DAO)</text>
<rect x="1456" y="1018.4" width="12" height="12" fill="#62b5c4"/>
<text x="1476.5" y="1030.0" class="lg">Team</text>
<rect x="1456" y="1045.9" width="12" height="12" fill="#ee7430"/>
<text x="1476.5" y="1057.5" class="lg">Liquidity</text>
<rect x="1456" y="1073.3" width="12" height="12" fill="#58a55c"/>
<text x="1476.5" y="1084.9" class="lg">Ido</text>
<rect x="1456" y="1100.7" width="12" height="12" fill="#f2bd42"/>
<text x="1476.5" y="1112.3" class="lg">Community</text>
<rect x="1456" y="1128.1" width="12" height="12" fill="#dc4a3d"/>
<text x="1476.5" y="1139.7" class="lg">Private A</text>
<rect x="1456" y="1155.5" width="12" height="12" fill="#4f84ec"/>
<text x="1476.5" y="1167.1" class="lg">Strategic</text>
<text x="216" y="793" class="ct">$HON Token Emissions Schedule</text>
</svg>
</body></html>
